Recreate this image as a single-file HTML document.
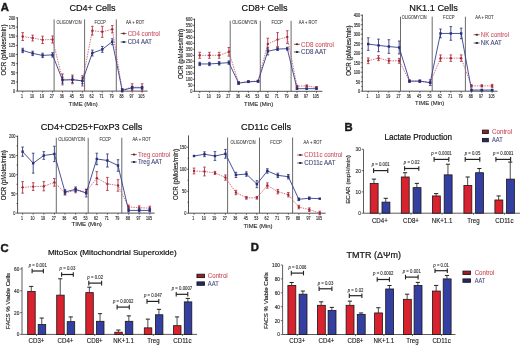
<!DOCTYPE html>
<html><head><meta charset="utf-8"><style>
html,body{margin:0;padding:0;background:#fff;}
body{width:520px;height:345px;overflow:hidden;}
svg{display:block;font-family:"Liberation Sans", sans-serif;will-change:transform;filter:blur(0.3px);}
</style></head><body>
<svg width="520" height="345" viewBox="0 0 520 345">
<rect width="520" height="345" fill="#fff"/>
<text x="0.70" y="11.10" font-size="11.3" text-anchor="start" fill="#1a1a1a" stroke="#1a1a1a" stroke-width="0.45" font-weight="bold">A</text>
<text x="344.60" y="130.55" font-size="11.3" text-anchor="start" fill="#1a1a1a" stroke="#1a1a1a" stroke-width="0.45" font-weight="bold">B</text>
<text x="0.60" y="251.65" font-size="11.3" text-anchor="start" fill="#1a1a1a" stroke="#1a1a1a" stroke-width="0.45" font-weight="bold">C</text>
<text x="250.80" y="251.05" font-size="11.3" text-anchor="start" fill="#1a1a1a" stroke="#1a1a1a" stroke-width="0.45" font-weight="bold">D</text>
<line x1="17.40" y1="17.30" x2="17.40" y2="91.10" stroke="#333" stroke-width="0.85"/>
<line x1="17.40" y1="91.10" x2="147.60" y2="91.10" stroke="#333" stroke-width="0.85"/>
<line x1="15.80" y1="91.10" x2="17.80" y2="91.10" stroke="#333" stroke-width="0.7"/>
<text x="15.30" y="93.15" font-size="4.9" text-anchor="end" fill="#333" stroke="#333" stroke-width="0.16" textLength="2.18" lengthAdjust="spacingAndGlyphs">0</text>
<line x1="15.80" y1="81.95" x2="17.80" y2="81.95" stroke="#333" stroke-width="0.7"/>
<text x="15.30" y="84.00" font-size="4.9" text-anchor="end" fill="#333" stroke="#333" stroke-width="0.16" textLength="4.36" lengthAdjust="spacingAndGlyphs">25</text>
<line x1="15.80" y1="72.80" x2="17.80" y2="72.80" stroke="#333" stroke-width="0.7"/>
<text x="15.30" y="74.85" font-size="4.9" text-anchor="end" fill="#333" stroke="#333" stroke-width="0.16" textLength="4.36" lengthAdjust="spacingAndGlyphs">50</text>
<line x1="15.80" y1="63.65" x2="17.80" y2="63.65" stroke="#333" stroke-width="0.7"/>
<text x="15.30" y="65.70" font-size="4.9" text-anchor="end" fill="#333" stroke="#333" stroke-width="0.16" textLength="4.36" lengthAdjust="spacingAndGlyphs">75</text>
<line x1="15.80" y1="54.50" x2="17.80" y2="54.50" stroke="#333" stroke-width="0.7"/>
<text x="15.30" y="56.55" font-size="4.9" text-anchor="end" fill="#333" stroke="#333" stroke-width="0.16" textLength="6.54" lengthAdjust="spacingAndGlyphs">100</text>
<line x1="15.80" y1="45.35" x2="17.80" y2="45.35" stroke="#333" stroke-width="0.7"/>
<text x="15.30" y="47.40" font-size="4.9" text-anchor="end" fill="#333" stroke="#333" stroke-width="0.16" textLength="6.54" lengthAdjust="spacingAndGlyphs">125</text>
<line x1="15.80" y1="36.20" x2="17.80" y2="36.20" stroke="#333" stroke-width="0.7"/>
<text x="15.30" y="38.25" font-size="4.9" text-anchor="end" fill="#333" stroke="#333" stroke-width="0.16" textLength="6.54" lengthAdjust="spacingAndGlyphs">150</text>
<line x1="15.80" y1="27.05" x2="17.80" y2="27.05" stroke="#333" stroke-width="0.7"/>
<text x="15.30" y="29.10" font-size="4.9" text-anchor="end" fill="#333" stroke="#333" stroke-width="0.16" textLength="6.54" lengthAdjust="spacingAndGlyphs">175</text>
<line x1="15.80" y1="17.90" x2="17.80" y2="17.90" stroke="#333" stroke-width="0.7"/>
<text x="15.30" y="19.95" font-size="4.9" text-anchor="end" fill="#333" stroke="#333" stroke-width="0.16" textLength="6.54" lengthAdjust="spacingAndGlyphs">200</text>
<line x1="22.70" y1="91.10" x2="22.70" y2="92.70" stroke="#333" stroke-width="0.7"/>
<text x="22.00" y="97.95" font-size="4.9" text-anchor="middle" fill="#333" stroke="#333" stroke-width="0.16" textLength="2.04" lengthAdjust="spacingAndGlyphs">1</text>
<line x1="32.65" y1="91.10" x2="32.65" y2="92.70" stroke="#333" stroke-width="0.7"/>
<text x="31.95" y="97.95" font-size="4.9" text-anchor="middle" fill="#333" stroke="#333" stroke-width="0.16" textLength="4.09" lengthAdjust="spacingAndGlyphs">10</text>
<line x1="42.60" y1="91.10" x2="42.60" y2="92.70" stroke="#333" stroke-width="0.7"/>
<text x="41.90" y="97.95" font-size="4.9" text-anchor="middle" fill="#333" stroke="#333" stroke-width="0.16" textLength="4.09" lengthAdjust="spacingAndGlyphs">19</text>
<line x1="52.55" y1="91.10" x2="52.55" y2="92.70" stroke="#333" stroke-width="0.7"/>
<text x="51.85" y="97.95" font-size="4.9" text-anchor="middle" fill="#333" stroke="#333" stroke-width="0.16" textLength="4.09" lengthAdjust="spacingAndGlyphs">27</text>
<line x1="62.50" y1="91.10" x2="62.50" y2="92.70" stroke="#333" stroke-width="0.7"/>
<text x="61.80" y="97.95" font-size="4.9" text-anchor="middle" fill="#333" stroke="#333" stroke-width="0.16" textLength="4.09" lengthAdjust="spacingAndGlyphs">36</text>
<line x1="72.45" y1="91.10" x2="72.45" y2="92.70" stroke="#333" stroke-width="0.7"/>
<text x="71.75" y="97.95" font-size="4.9" text-anchor="middle" fill="#333" stroke="#333" stroke-width="0.16" textLength="4.09" lengthAdjust="spacingAndGlyphs">45</text>
<line x1="82.40" y1="91.10" x2="82.40" y2="92.70" stroke="#333" stroke-width="0.7"/>
<text x="81.70" y="97.95" font-size="4.9" text-anchor="middle" fill="#333" stroke="#333" stroke-width="0.16" textLength="4.09" lengthAdjust="spacingAndGlyphs">53</text>
<line x1="92.35" y1="91.10" x2="92.35" y2="92.70" stroke="#333" stroke-width="0.7"/>
<text x="91.65" y="97.95" font-size="4.9" text-anchor="middle" fill="#333" stroke="#333" stroke-width="0.16" textLength="4.09" lengthAdjust="spacingAndGlyphs">62</text>
<line x1="102.30" y1="91.10" x2="102.30" y2="92.70" stroke="#333" stroke-width="0.7"/>
<text x="101.60" y="97.95" font-size="4.9" text-anchor="middle" fill="#333" stroke="#333" stroke-width="0.16" textLength="4.09" lengthAdjust="spacingAndGlyphs">71</text>
<line x1="112.25" y1="91.10" x2="112.25" y2="92.70" stroke="#333" stroke-width="0.7"/>
<text x="111.55" y="97.95" font-size="4.9" text-anchor="middle" fill="#333" stroke="#333" stroke-width="0.16" textLength="4.09" lengthAdjust="spacingAndGlyphs">79</text>
<line x1="122.20" y1="91.10" x2="122.20" y2="92.70" stroke="#333" stroke-width="0.7"/>
<text x="121.50" y="97.95" font-size="4.9" text-anchor="middle" fill="#333" stroke="#333" stroke-width="0.16" textLength="4.09" lengthAdjust="spacingAndGlyphs">88</text>
<line x1="132.15" y1="91.10" x2="132.15" y2="92.70" stroke="#333" stroke-width="0.7"/>
<text x="131.45" y="97.95" font-size="4.9" text-anchor="middle" fill="#333" stroke="#333" stroke-width="0.16" textLength="4.09" lengthAdjust="spacingAndGlyphs">97</text>
<line x1="142.10" y1="91.10" x2="142.10" y2="92.70" stroke="#333" stroke-width="0.7"/>
<text x="141.40" y="97.95" font-size="4.9" text-anchor="middle" fill="#333" stroke="#333" stroke-width="0.16" textLength="6.13" lengthAdjust="spacingAndGlyphs">105</text>
<text x="83.10" y="106.02" font-size="6.2" text-anchor="middle" fill="#222" stroke="#222" stroke-width="0.1" textLength="29.00" lengthAdjust="spacingAndGlyphs">TIME (Min)</text>
<text x="6.00" y="50.00" font-size="6.3" text-anchor="middle" fill="#222" stroke="#222" stroke-width="0.15" textLength="51.00" lengthAdjust="spacingAndGlyphs" transform="rotate(-90 6.00 50.00)">OCR (pMoles/min)</text>
<line x1="54.10" y1="19.40" x2="54.10" y2="91.10" stroke="#5a5a5a" stroke-width="0.9"/>
<line x1="84.60" y1="19.40" x2="84.60" y2="91.10" stroke="#5a5a5a" stroke-width="0.9"/>
<line x1="116.30" y1="19.40" x2="116.30" y2="91.10" stroke="#5a5a5a" stroke-width="0.9"/>
<text x="69.00" y="23.81" font-size="4.5" text-anchor="middle" fill="#333" stroke="#333" stroke-width="0.06" textLength="25.00" lengthAdjust="spacingAndGlyphs">OLIGOMYCIN</text>
<text x="100.20" y="23.81" font-size="4.5" text-anchor="middle" fill="#333" stroke="#333" stroke-width="0.06" textLength="11.40" lengthAdjust="spacingAndGlyphs">FCCP</text>
<text x="135.10" y="23.81" font-size="4.5" text-anchor="middle" fill="#333" stroke="#333" stroke-width="0.06" textLength="18.40" lengthAdjust="spacingAndGlyphs">AA + ROT</text>
<text x="92.50" y="11.17" font-size="9.4" text-anchor="middle" fill="#111" stroke="#111" stroke-width="0.2" textLength="46.00" lengthAdjust="spacingAndGlyphs">CD4+ Cells</text>
<polyline points="22.70,36.57 32.65,38.03 42.60,39.86 52.55,39.49 62.50,79.39 72.45,79.39 82.40,80.85 92.35,30.71 102.30,31.81 112.25,29.25 122.20,90.00 132.15,87.07 142.10,87.44" fill="none" stroke="#d06474" stroke-width="0.9" stroke-dasharray="1.5,1.0"/>
<line x1="22.70" y1="40.48" x2="22.70" y2="32.65" stroke="#a8283a" stroke-width="0.85"/>
<line x1="21.40" y1="32.65" x2="24.00" y2="32.65" stroke="#a8283a" stroke-width="0.8"/>
<line x1="21.40" y1="40.48" x2="24.00" y2="40.48" stroke="#a8283a" stroke-width="0.8"/>
<circle cx="22.70" cy="36.57" r="1.2" fill="#a8283a"/>
<line x1="32.65" y1="40.96" x2="32.65" y2="35.10" stroke="#a8283a" stroke-width="0.85"/>
<line x1="31.35" y1="35.10" x2="33.95" y2="35.10" stroke="#a8283a" stroke-width="0.8"/>
<line x1="31.35" y1="40.96" x2="33.95" y2="40.96" stroke="#a8283a" stroke-width="0.8"/>
<circle cx="32.65" cy="38.03" r="1.2" fill="#a8283a"/>
<line x1="42.60" y1="43.52" x2="42.60" y2="36.20" stroke="#a8283a" stroke-width="0.85"/>
<line x1="41.30" y1="36.20" x2="43.90" y2="36.20" stroke="#a8283a" stroke-width="0.8"/>
<line x1="41.30" y1="43.52" x2="43.90" y2="43.52" stroke="#a8283a" stroke-width="0.8"/>
<circle cx="42.60" cy="39.86" r="1.2" fill="#a8283a"/>
<line x1="52.55" y1="43.01" x2="52.55" y2="35.98" stroke="#a8283a" stroke-width="0.85"/>
<line x1="51.25" y1="35.98" x2="53.85" y2="35.98" stroke="#a8283a" stroke-width="0.8"/>
<line x1="51.25" y1="43.01" x2="53.85" y2="43.01" stroke="#a8283a" stroke-width="0.8"/>
<circle cx="52.55" cy="39.49" r="1.2" fill="#a8283a"/>
<line x1="62.50" y1="84.88" x2="62.50" y2="73.90" stroke="#a8283a" stroke-width="0.85"/>
<line x1="61.20" y1="73.90" x2="63.80" y2="73.90" stroke="#a8283a" stroke-width="0.8"/>
<line x1="61.20" y1="84.88" x2="63.80" y2="84.88" stroke="#a8283a" stroke-width="0.8"/>
<circle cx="62.50" cy="79.39" r="1.2" fill="#a8283a"/>
<line x1="72.45" y1="83.78" x2="72.45" y2="75.00" stroke="#a8283a" stroke-width="0.85"/>
<line x1="71.15" y1="75.00" x2="73.75" y2="75.00" stroke="#a8283a" stroke-width="0.8"/>
<line x1="71.15" y1="83.78" x2="73.75" y2="83.78" stroke="#a8283a" stroke-width="0.8"/>
<circle cx="72.45" cy="79.39" r="1.2" fill="#a8283a"/>
<line x1="82.40" y1="85.98" x2="82.40" y2="75.73" stroke="#a8283a" stroke-width="0.85"/>
<line x1="81.10" y1="75.73" x2="83.70" y2="75.73" stroke="#a8283a" stroke-width="0.8"/>
<line x1="81.10" y1="85.98" x2="83.70" y2="85.98" stroke="#a8283a" stroke-width="0.8"/>
<circle cx="82.40" cy="80.85" r="1.2" fill="#a8283a"/>
<line x1="92.35" y1="35.10" x2="92.35" y2="26.32" stroke="#a8283a" stroke-width="0.85"/>
<line x1="91.05" y1="26.32" x2="93.65" y2="26.32" stroke="#a8283a" stroke-width="0.8"/>
<line x1="91.05" y1="35.10" x2="93.65" y2="35.10" stroke="#a8283a" stroke-width="0.8"/>
<circle cx="92.35" cy="30.71" r="1.2" fill="#a8283a"/>
<line x1="102.30" y1="37.30" x2="102.30" y2="26.32" stroke="#a8283a" stroke-width="0.85"/>
<line x1="101.00" y1="26.32" x2="103.60" y2="26.32" stroke="#a8283a" stroke-width="0.8"/>
<line x1="101.00" y1="37.30" x2="103.60" y2="37.30" stroke="#a8283a" stroke-width="0.8"/>
<circle cx="102.30" cy="31.81" r="1.2" fill="#a8283a"/>
<line x1="112.25" y1="32.91" x2="112.25" y2="25.59" stroke="#a8283a" stroke-width="0.85"/>
<line x1="110.95" y1="25.59" x2="113.55" y2="25.59" stroke="#a8283a" stroke-width="0.8"/>
<line x1="110.95" y1="32.91" x2="113.55" y2="32.91" stroke="#a8283a" stroke-width="0.8"/>
<circle cx="112.25" cy="29.25" r="1.2" fill="#a8283a"/>
<line x1="122.20" y1="91.47" x2="122.20" y2="88.54" stroke="#a8283a" stroke-width="0.85"/>
<line x1="120.90" y1="88.54" x2="123.50" y2="88.54" stroke="#a8283a" stroke-width="0.8"/>
<line x1="120.90" y1="91.47" x2="123.50" y2="91.47" stroke="#a8283a" stroke-width="0.8"/>
<circle cx="122.20" cy="90.00" r="1.2" fill="#a8283a"/>
<line x1="132.15" y1="90.37" x2="132.15" y2="83.78" stroke="#a8283a" stroke-width="0.85"/>
<line x1="130.85" y1="83.78" x2="133.45" y2="83.78" stroke="#a8283a" stroke-width="0.8"/>
<line x1="130.85" y1="90.37" x2="133.45" y2="90.37" stroke="#a8283a" stroke-width="0.8"/>
<circle cx="132.15" cy="87.07" r="1.2" fill="#a8283a"/>
<line x1="142.10" y1="91.10" x2="142.10" y2="83.78" stroke="#a8283a" stroke-width="0.85"/>
<line x1="140.80" y1="83.78" x2="143.40" y2="83.78" stroke="#a8283a" stroke-width="0.8"/>
<line x1="140.80" y1="91.10" x2="143.40" y2="91.10" stroke="#a8283a" stroke-width="0.8"/>
<circle cx="142.10" cy="87.44" r="1.2" fill="#a8283a"/>
<polyline points="22.70,50.47 32.65,53.40 42.60,55.41 52.55,54.87 62.50,80.12 72.45,79.75 82.40,80.85 92.35,53.04 102.30,49.38 112.25,41.69 122.20,90.37 132.15,87.81 142.10,87.81" fill="none" stroke="#33408e" stroke-width="0.9"/>
<line x1="22.70" y1="52.67" x2="22.70" y2="48.28" stroke="#262f78" stroke-width="0.85"/>
<line x1="21.40" y1="48.28" x2="24.00" y2="48.28" stroke="#262f78" stroke-width="0.8"/>
<line x1="21.40" y1="52.67" x2="24.00" y2="52.67" stroke="#262f78" stroke-width="0.8"/>
<rect x="21.50" y="49.27" width="2.40" height="2.40" fill="#262f78"/>
<line x1="32.65" y1="55.60" x2="32.65" y2="51.21" stroke="#262f78" stroke-width="0.85"/>
<line x1="31.35" y1="51.21" x2="33.95" y2="51.21" stroke="#262f78" stroke-width="0.8"/>
<line x1="31.35" y1="55.60" x2="33.95" y2="55.60" stroke="#262f78" stroke-width="0.8"/>
<rect x="31.45" y="52.20" width="2.40" height="2.40" fill="#262f78"/>
<line x1="42.60" y1="57.61" x2="42.60" y2="53.22" stroke="#262f78" stroke-width="0.85"/>
<line x1="41.30" y1="53.22" x2="43.90" y2="53.22" stroke="#262f78" stroke-width="0.8"/>
<line x1="41.30" y1="57.61" x2="43.90" y2="57.61" stroke="#262f78" stroke-width="0.8"/>
<rect x="41.40" y="54.21" width="2.40" height="2.40" fill="#262f78"/>
<line x1="52.55" y1="57.06" x2="52.55" y2="52.67" stroke="#262f78" stroke-width="0.85"/>
<line x1="51.25" y1="52.67" x2="53.85" y2="52.67" stroke="#262f78" stroke-width="0.8"/>
<line x1="51.25" y1="57.06" x2="53.85" y2="57.06" stroke="#262f78" stroke-width="0.8"/>
<rect x="51.35" y="53.67" width="2.40" height="2.40" fill="#262f78"/>
<line x1="62.50" y1="83.05" x2="62.50" y2="77.19" stroke="#262f78" stroke-width="0.85"/>
<line x1="61.20" y1="77.19" x2="63.80" y2="77.19" stroke="#262f78" stroke-width="0.8"/>
<line x1="61.20" y1="83.05" x2="63.80" y2="83.05" stroke="#262f78" stroke-width="0.8"/>
<rect x="61.30" y="78.92" width="2.40" height="2.40" fill="#262f78"/>
<line x1="72.45" y1="82.68" x2="72.45" y2="76.83" stroke="#262f78" stroke-width="0.85"/>
<line x1="71.15" y1="76.83" x2="73.75" y2="76.83" stroke="#262f78" stroke-width="0.8"/>
<line x1="71.15" y1="82.68" x2="73.75" y2="82.68" stroke="#262f78" stroke-width="0.8"/>
<rect x="71.25" y="78.55" width="2.40" height="2.40" fill="#262f78"/>
<line x1="82.40" y1="83.78" x2="82.40" y2="77.92" stroke="#262f78" stroke-width="0.85"/>
<line x1="81.10" y1="77.92" x2="83.70" y2="77.92" stroke="#262f78" stroke-width="0.8"/>
<line x1="81.10" y1="83.78" x2="83.70" y2="83.78" stroke="#262f78" stroke-width="0.8"/>
<rect x="81.20" y="79.65" width="2.40" height="2.40" fill="#262f78"/>
<line x1="92.35" y1="55.96" x2="92.35" y2="50.11" stroke="#262f78" stroke-width="0.85"/>
<line x1="91.05" y1="50.11" x2="93.65" y2="50.11" stroke="#262f78" stroke-width="0.8"/>
<line x1="91.05" y1="55.96" x2="93.65" y2="55.96" stroke="#262f78" stroke-width="0.8"/>
<rect x="91.15" y="51.84" width="2.40" height="2.40" fill="#262f78"/>
<line x1="102.30" y1="52.30" x2="102.30" y2="46.45" stroke="#262f78" stroke-width="0.85"/>
<line x1="101.00" y1="46.45" x2="103.60" y2="46.45" stroke="#262f78" stroke-width="0.8"/>
<line x1="101.00" y1="52.30" x2="103.60" y2="52.30" stroke="#262f78" stroke-width="0.8"/>
<rect x="101.10" y="48.18" width="2.40" height="2.40" fill="#262f78"/>
<line x1="112.25" y1="44.62" x2="112.25" y2="38.76" stroke="#262f78" stroke-width="0.85"/>
<line x1="110.95" y1="38.76" x2="113.55" y2="38.76" stroke="#262f78" stroke-width="0.8"/>
<line x1="110.95" y1="44.62" x2="113.55" y2="44.62" stroke="#262f78" stroke-width="0.8"/>
<rect x="111.05" y="40.49" width="2.40" height="2.40" fill="#262f78"/>
<line x1="122.20" y1="91.83" x2="122.20" y2="88.90" stroke="#262f78" stroke-width="0.85"/>
<line x1="120.90" y1="88.90" x2="123.50" y2="88.90" stroke="#262f78" stroke-width="0.8"/>
<line x1="120.90" y1="91.83" x2="123.50" y2="91.83" stroke="#262f78" stroke-width="0.8"/>
<rect x="121.00" y="89.17" width="2.40" height="2.40" fill="#262f78"/>
<line x1="132.15" y1="89.27" x2="132.15" y2="86.34" stroke="#262f78" stroke-width="0.85"/>
<line x1="130.85" y1="86.34" x2="133.45" y2="86.34" stroke="#262f78" stroke-width="0.8"/>
<line x1="130.85" y1="89.27" x2="133.45" y2="89.27" stroke="#262f78" stroke-width="0.8"/>
<rect x="130.95" y="86.61" width="2.40" height="2.40" fill="#262f78"/>
<line x1="142.10" y1="89.27" x2="142.10" y2="86.34" stroke="#262f78" stroke-width="0.85"/>
<line x1="140.80" y1="86.34" x2="143.40" y2="86.34" stroke="#262f78" stroke-width="0.8"/>
<line x1="140.80" y1="89.27" x2="143.40" y2="89.27" stroke="#262f78" stroke-width="0.8"/>
<rect x="140.90" y="86.61" width="2.40" height="2.40" fill="#262f78"/>
<line x1="120.60" y1="33.50" x2="126.50" y2="33.50" stroke="#6a2028" stroke-width="0.7"/>
<ellipse cx="123.70" cy="33.50" rx="1.3" ry="1.0" fill="#6a2028"/>
<text x="127.70" y="35.86" font-size="6.6" text-anchor="start" fill="#cc5868" stroke="#cc5868" stroke-width="0.1" textLength="32.30" lengthAdjust="spacingAndGlyphs">CD4 control</text>
<line x1="120.60" y1="42.00" x2="126.50" y2="42.00" stroke="#1c2240" stroke-width="0.7"/>
<ellipse cx="123.70" cy="42.00" rx="1.3" ry="1.0" fill="#1c2240"/>
<text x="127.70" y="44.36" font-size="6.6" text-anchor="start" fill="#424878" stroke="#424878" stroke-width="0.1" textLength="24.30" lengthAdjust="spacingAndGlyphs">CD4 AAT</text>
<line x1="194.50" y1="18.70" x2="194.50" y2="91.30" stroke="#333" stroke-width="0.85"/>
<line x1="194.50" y1="91.30" x2="322.40" y2="91.30" stroke="#333" stroke-width="0.85"/>
<line x1="192.90" y1="91.30" x2="194.90" y2="91.30" stroke="#333" stroke-width="0.7"/>
<text x="192.40" y="93.35" font-size="4.9" text-anchor="end" fill="#333" stroke="#333" stroke-width="0.16" textLength="2.18" lengthAdjust="spacingAndGlyphs">0</text>
<line x1="192.90" y1="85.30" x2="194.90" y2="85.30" stroke="#333" stroke-width="0.7"/>
<text x="192.40" y="87.35" font-size="4.9" text-anchor="end" fill="#333" stroke="#333" stroke-width="0.16" textLength="4.36" lengthAdjust="spacingAndGlyphs">50</text>
<line x1="192.90" y1="79.30" x2="194.90" y2="79.30" stroke="#333" stroke-width="0.7"/>
<text x="192.40" y="81.35" font-size="4.9" text-anchor="end" fill="#333" stroke="#333" stroke-width="0.16" textLength="6.54" lengthAdjust="spacingAndGlyphs">100</text>
<line x1="192.90" y1="73.30" x2="194.90" y2="73.30" stroke="#333" stroke-width="0.7"/>
<text x="192.40" y="75.35" font-size="4.9" text-anchor="end" fill="#333" stroke="#333" stroke-width="0.16" textLength="6.54" lengthAdjust="spacingAndGlyphs">150</text>
<line x1="192.90" y1="67.30" x2="194.90" y2="67.30" stroke="#333" stroke-width="0.7"/>
<text x="192.40" y="69.35" font-size="4.9" text-anchor="end" fill="#333" stroke="#333" stroke-width="0.16" textLength="6.54" lengthAdjust="spacingAndGlyphs">200</text>
<line x1="192.90" y1="61.30" x2="194.90" y2="61.30" stroke="#333" stroke-width="0.7"/>
<text x="192.40" y="63.35" font-size="4.9" text-anchor="end" fill="#333" stroke="#333" stroke-width="0.16" textLength="6.54" lengthAdjust="spacingAndGlyphs">250</text>
<line x1="192.90" y1="55.30" x2="194.90" y2="55.30" stroke="#333" stroke-width="0.7"/>
<text x="192.40" y="57.35" font-size="4.9" text-anchor="end" fill="#333" stroke="#333" stroke-width="0.16" textLength="6.54" lengthAdjust="spacingAndGlyphs">300</text>
<line x1="192.90" y1="49.30" x2="194.90" y2="49.30" stroke="#333" stroke-width="0.7"/>
<text x="192.40" y="51.35" font-size="4.9" text-anchor="end" fill="#333" stroke="#333" stroke-width="0.16" textLength="6.54" lengthAdjust="spacingAndGlyphs">350</text>
<line x1="192.90" y1="43.30" x2="194.90" y2="43.30" stroke="#333" stroke-width="0.7"/>
<text x="192.40" y="45.35" font-size="4.9" text-anchor="end" fill="#333" stroke="#333" stroke-width="0.16" textLength="6.54" lengthAdjust="spacingAndGlyphs">400</text>
<line x1="192.90" y1="37.30" x2="194.90" y2="37.30" stroke="#333" stroke-width="0.7"/>
<text x="192.40" y="39.35" font-size="4.9" text-anchor="end" fill="#333" stroke="#333" stroke-width="0.16" textLength="6.54" lengthAdjust="spacingAndGlyphs">450</text>
<line x1="192.90" y1="31.30" x2="194.90" y2="31.30" stroke="#333" stroke-width="0.7"/>
<text x="192.40" y="33.35" font-size="4.9" text-anchor="end" fill="#333" stroke="#333" stroke-width="0.16" textLength="6.54" lengthAdjust="spacingAndGlyphs">500</text>
<line x1="192.90" y1="25.30" x2="194.90" y2="25.30" stroke="#333" stroke-width="0.7"/>
<text x="192.40" y="27.35" font-size="4.9" text-anchor="end" fill="#333" stroke="#333" stroke-width="0.16" textLength="6.54" lengthAdjust="spacingAndGlyphs">550</text>
<line x1="192.90" y1="19.30" x2="194.90" y2="19.30" stroke="#333" stroke-width="0.7"/>
<text x="192.40" y="21.35" font-size="4.9" text-anchor="end" fill="#333" stroke="#333" stroke-width="0.16" textLength="6.54" lengthAdjust="spacingAndGlyphs">600</text>
<line x1="199.70" y1="91.30" x2="199.70" y2="92.90" stroke="#333" stroke-width="0.7"/>
<text x="199.00" y="98.25" font-size="4.9" text-anchor="middle" fill="#333" stroke="#333" stroke-width="0.16" textLength="2.04" lengthAdjust="spacingAndGlyphs">1</text>
<line x1="209.43" y1="91.30" x2="209.43" y2="92.90" stroke="#333" stroke-width="0.7"/>
<text x="208.73" y="98.25" font-size="4.9" text-anchor="middle" fill="#333" stroke="#333" stroke-width="0.16" textLength="4.09" lengthAdjust="spacingAndGlyphs">10</text>
<line x1="219.16" y1="91.30" x2="219.16" y2="92.90" stroke="#333" stroke-width="0.7"/>
<text x="218.46" y="98.25" font-size="4.9" text-anchor="middle" fill="#333" stroke="#333" stroke-width="0.16" textLength="4.09" lengthAdjust="spacingAndGlyphs">19</text>
<line x1="228.89" y1="91.30" x2="228.89" y2="92.90" stroke="#333" stroke-width="0.7"/>
<text x="228.19" y="98.25" font-size="4.9" text-anchor="middle" fill="#333" stroke="#333" stroke-width="0.16" textLength="4.09" lengthAdjust="spacingAndGlyphs">27</text>
<line x1="238.62" y1="91.30" x2="238.62" y2="92.90" stroke="#333" stroke-width="0.7"/>
<text x="237.92" y="98.25" font-size="4.9" text-anchor="middle" fill="#333" stroke="#333" stroke-width="0.16" textLength="4.09" lengthAdjust="spacingAndGlyphs">36</text>
<line x1="248.35" y1="91.30" x2="248.35" y2="92.90" stroke="#333" stroke-width="0.7"/>
<text x="247.65" y="98.25" font-size="4.9" text-anchor="middle" fill="#333" stroke="#333" stroke-width="0.16" textLength="4.09" lengthAdjust="spacingAndGlyphs">45</text>
<line x1="258.08" y1="91.30" x2="258.08" y2="92.90" stroke="#333" stroke-width="0.7"/>
<text x="257.38" y="98.25" font-size="4.9" text-anchor="middle" fill="#333" stroke="#333" stroke-width="0.16" textLength="4.09" lengthAdjust="spacingAndGlyphs">53</text>
<line x1="267.81" y1="91.30" x2="267.81" y2="92.90" stroke="#333" stroke-width="0.7"/>
<text x="267.11" y="98.25" font-size="4.9" text-anchor="middle" fill="#333" stroke="#333" stroke-width="0.16" textLength="4.09" lengthAdjust="spacingAndGlyphs">62</text>
<line x1="277.54" y1="91.30" x2="277.54" y2="92.90" stroke="#333" stroke-width="0.7"/>
<text x="276.84" y="98.25" font-size="4.9" text-anchor="middle" fill="#333" stroke="#333" stroke-width="0.16" textLength="4.09" lengthAdjust="spacingAndGlyphs">71</text>
<line x1="287.27" y1="91.30" x2="287.27" y2="92.90" stroke="#333" stroke-width="0.7"/>
<text x="286.57" y="98.25" font-size="4.9" text-anchor="middle" fill="#333" stroke="#333" stroke-width="0.16" textLength="4.09" lengthAdjust="spacingAndGlyphs">79</text>
<line x1="297.00" y1="91.30" x2="297.00" y2="92.90" stroke="#333" stroke-width="0.7"/>
<text x="296.30" y="98.25" font-size="4.9" text-anchor="middle" fill="#333" stroke="#333" stroke-width="0.16" textLength="4.09" lengthAdjust="spacingAndGlyphs">88</text>
<line x1="306.73" y1="91.30" x2="306.73" y2="92.90" stroke="#333" stroke-width="0.7"/>
<text x="306.03" y="98.25" font-size="4.9" text-anchor="middle" fill="#333" stroke="#333" stroke-width="0.16" textLength="4.09" lengthAdjust="spacingAndGlyphs">97</text>
<line x1="316.46" y1="91.30" x2="316.46" y2="92.90" stroke="#333" stroke-width="0.7"/>
<text x="315.76" y="98.25" font-size="4.9" text-anchor="middle" fill="#333" stroke="#333" stroke-width="0.16" textLength="6.13" lengthAdjust="spacingAndGlyphs">105</text>
<text x="258.60" y="106.32" font-size="6.2" text-anchor="middle" fill="#222" stroke="#222" stroke-width="0.1" textLength="29.00" lengthAdjust="spacingAndGlyphs">TIME (Min)</text>
<text x="182.70" y="53.90" font-size="6.3" text-anchor="middle" fill="#222" stroke="#222" stroke-width="0.15" textLength="50.00" lengthAdjust="spacingAndGlyphs" transform="rotate(-90 182.70 53.90)">OCR (pMoles/min)</text>
<line x1="230.20" y1="20.80" x2="230.20" y2="91.30" stroke="#5a5a5a" stroke-width="0.9"/>
<line x1="260.30" y1="20.80" x2="260.30" y2="91.30" stroke="#5a5a5a" stroke-width="0.9"/>
<line x1="291.10" y1="20.80" x2="291.10" y2="91.30" stroke="#5a5a5a" stroke-width="0.9"/>
<text x="244.80" y="24.21" font-size="4.5" text-anchor="middle" fill="#333" stroke="#333" stroke-width="0.06" textLength="25.00" lengthAdjust="spacingAndGlyphs">OLIGOMYCIN</text>
<text x="277.20" y="24.21" font-size="4.5" text-anchor="middle" fill="#333" stroke="#333" stroke-width="0.06" textLength="11.40" lengthAdjust="spacingAndGlyphs">FCCP</text>
<text x="308.00" y="24.21" font-size="4.5" text-anchor="middle" fill="#333" stroke="#333" stroke-width="0.06" textLength="18.40" lengthAdjust="spacingAndGlyphs">AA + ROT</text>
<text x="264.60" y="11.17" font-size="9.4" text-anchor="middle" fill="#111" stroke="#111" stroke-width="0.2" textLength="46.00" lengthAdjust="spacingAndGlyphs">CD8+ Cells</text>
<polyline points="199.70,55.30 209.43,55.30 219.16,55.30 228.89,51.82 238.62,82.90 248.35,81.58 258.08,81.10 267.81,43.90 277.54,39.58 287.27,37.06 297.00,86.14 306.73,85.90 316.46,87.46" fill="none" stroke="#d06474" stroke-width="0.9" stroke-dasharray="1.5,1.0"/>
<line x1="199.70" y1="58.30" x2="199.70" y2="52.30" stroke="#a8283a" stroke-width="0.85"/>
<line x1="198.40" y1="52.30" x2="201.00" y2="52.30" stroke="#a8283a" stroke-width="0.8"/>
<line x1="198.40" y1="58.30" x2="201.00" y2="58.30" stroke="#a8283a" stroke-width="0.8"/>
<circle cx="199.70" cy="55.30" r="1.2" fill="#a8283a"/>
<line x1="209.43" y1="58.30" x2="209.43" y2="52.30" stroke="#a8283a" stroke-width="0.85"/>
<line x1="208.13" y1="52.30" x2="210.73" y2="52.30" stroke="#a8283a" stroke-width="0.8"/>
<line x1="208.13" y1="58.30" x2="210.73" y2="58.30" stroke="#a8283a" stroke-width="0.8"/>
<circle cx="209.43" cy="55.30" r="1.2" fill="#a8283a"/>
<line x1="219.16" y1="58.30" x2="219.16" y2="52.30" stroke="#a8283a" stroke-width="0.85"/>
<line x1="217.86" y1="52.30" x2="220.46" y2="52.30" stroke="#a8283a" stroke-width="0.8"/>
<line x1="217.86" y1="58.30" x2="220.46" y2="58.30" stroke="#a8283a" stroke-width="0.8"/>
<circle cx="219.16" cy="55.30" r="1.2" fill="#a8283a"/>
<line x1="228.89" y1="56.14" x2="228.89" y2="47.50" stroke="#a8283a" stroke-width="0.85"/>
<line x1="227.59" y1="47.50" x2="230.19" y2="47.50" stroke="#a8283a" stroke-width="0.8"/>
<line x1="227.59" y1="56.14" x2="230.19" y2="56.14" stroke="#a8283a" stroke-width="0.8"/>
<circle cx="228.89" cy="51.82" r="1.2" fill="#a8283a"/>
<line x1="238.62" y1="84.10" x2="238.62" y2="81.70" stroke="#a8283a" stroke-width="0.85"/>
<line x1="237.32" y1="81.70" x2="239.92" y2="81.70" stroke="#a8283a" stroke-width="0.8"/>
<line x1="237.32" y1="84.10" x2="239.92" y2="84.10" stroke="#a8283a" stroke-width="0.8"/>
<circle cx="238.62" cy="82.90" r="1.2" fill="#a8283a"/>
<line x1="248.35" y1="82.54" x2="248.35" y2="80.62" stroke="#a8283a" stroke-width="0.85"/>
<line x1="247.05" y1="80.62" x2="249.65" y2="80.62" stroke="#a8283a" stroke-width="0.8"/>
<line x1="247.05" y1="82.54" x2="249.65" y2="82.54" stroke="#a8283a" stroke-width="0.8"/>
<circle cx="248.35" cy="81.58" r="1.2" fill="#a8283a"/>
<line x1="258.08" y1="82.06" x2="258.08" y2="80.14" stroke="#a8283a" stroke-width="0.85"/>
<line x1="256.78" y1="80.14" x2="259.38" y2="80.14" stroke="#a8283a" stroke-width="0.8"/>
<line x1="256.78" y1="82.06" x2="259.38" y2="82.06" stroke="#a8283a" stroke-width="0.8"/>
<circle cx="258.08" cy="81.10" r="1.2" fill="#a8283a"/>
<line x1="267.81" y1="49.54" x2="267.81" y2="38.26" stroke="#a8283a" stroke-width="0.85"/>
<line x1="266.51" y1="38.26" x2="269.11" y2="38.26" stroke="#a8283a" stroke-width="0.8"/>
<line x1="266.51" y1="49.54" x2="269.11" y2="49.54" stroke="#a8283a" stroke-width="0.8"/>
<circle cx="267.81" cy="43.90" r="1.2" fill="#a8283a"/>
<line x1="277.54" y1="46.54" x2="277.54" y2="32.62" stroke="#a8283a" stroke-width="0.85"/>
<line x1="276.24" y1="32.62" x2="278.84" y2="32.62" stroke="#a8283a" stroke-width="0.8"/>
<line x1="276.24" y1="46.54" x2="278.84" y2="46.54" stroke="#a8283a" stroke-width="0.8"/>
<circle cx="277.54" cy="39.58" r="1.2" fill="#a8283a"/>
<line x1="287.27" y1="43.42" x2="287.27" y2="30.70" stroke="#a8283a" stroke-width="0.85"/>
<line x1="285.97" y1="30.70" x2="288.57" y2="30.70" stroke="#a8283a" stroke-width="0.8"/>
<line x1="285.97" y1="43.42" x2="288.57" y2="43.42" stroke="#a8283a" stroke-width="0.8"/>
<circle cx="287.27" cy="37.06" r="1.2" fill="#a8283a"/>
<line x1="297.00" y1="87.10" x2="297.00" y2="85.18" stroke="#a8283a" stroke-width="0.85"/>
<line x1="295.70" y1="85.18" x2="298.30" y2="85.18" stroke="#a8283a" stroke-width="0.8"/>
<line x1="295.70" y1="87.10" x2="298.30" y2="87.10" stroke="#a8283a" stroke-width="0.8"/>
<circle cx="297.00" cy="86.14" r="1.2" fill="#a8283a"/>
<line x1="306.73" y1="86.86" x2="306.73" y2="84.94" stroke="#a8283a" stroke-width="0.85"/>
<line x1="305.43" y1="84.94" x2="308.03" y2="84.94" stroke="#a8283a" stroke-width="0.8"/>
<line x1="305.43" y1="86.86" x2="308.03" y2="86.86" stroke="#a8283a" stroke-width="0.8"/>
<circle cx="306.73" cy="85.90" r="1.2" fill="#a8283a"/>
<line x1="316.46" y1="88.42" x2="316.46" y2="86.50" stroke="#a8283a" stroke-width="0.85"/>
<line x1="315.16" y1="86.50" x2="317.76" y2="86.50" stroke="#a8283a" stroke-width="0.8"/>
<line x1="315.16" y1="88.42" x2="317.76" y2="88.42" stroke="#a8283a" stroke-width="0.8"/>
<circle cx="316.46" cy="87.46" r="1.2" fill="#a8283a"/>
<polyline points="199.70,63.94 209.43,63.94 219.16,63.34 228.89,62.62 238.62,83.14 248.35,81.82 258.08,81.34 267.81,51.34 277.54,49.06 287.27,48.70 297.00,88.66 306.73,88.66 316.46,88.66" fill="none" stroke="#33408e" stroke-width="0.9"/>
<line x1="199.70" y1="65.62" x2="199.70" y2="62.26" stroke="#262f78" stroke-width="0.85"/>
<line x1="198.40" y1="62.26" x2="201.00" y2="62.26" stroke="#262f78" stroke-width="0.8"/>
<line x1="198.40" y1="65.62" x2="201.00" y2="65.62" stroke="#262f78" stroke-width="0.8"/>
<rect x="198.50" y="62.74" width="2.40" height="2.40" fill="#262f78"/>
<line x1="209.43" y1="65.62" x2="209.43" y2="62.26" stroke="#262f78" stroke-width="0.85"/>
<line x1="208.13" y1="62.26" x2="210.73" y2="62.26" stroke="#262f78" stroke-width="0.8"/>
<line x1="208.13" y1="65.62" x2="210.73" y2="65.62" stroke="#262f78" stroke-width="0.8"/>
<rect x="208.23" y="62.74" width="2.40" height="2.40" fill="#262f78"/>
<line x1="219.16" y1="65.02" x2="219.16" y2="61.66" stroke="#262f78" stroke-width="0.85"/>
<line x1="217.86" y1="61.66" x2="220.46" y2="61.66" stroke="#262f78" stroke-width="0.8"/>
<line x1="217.86" y1="65.02" x2="220.46" y2="65.02" stroke="#262f78" stroke-width="0.8"/>
<rect x="217.96" y="62.14" width="2.40" height="2.40" fill="#262f78"/>
<line x1="228.89" y1="64.30" x2="228.89" y2="60.94" stroke="#262f78" stroke-width="0.85"/>
<line x1="227.59" y1="60.94" x2="230.19" y2="60.94" stroke="#262f78" stroke-width="0.8"/>
<line x1="227.59" y1="64.30" x2="230.19" y2="64.30" stroke="#262f78" stroke-width="0.8"/>
<rect x="227.69" y="61.42" width="2.40" height="2.40" fill="#262f78"/>
<line x1="238.62" y1="84.34" x2="238.62" y2="81.94" stroke="#262f78" stroke-width="0.85"/>
<line x1="237.32" y1="81.94" x2="239.92" y2="81.94" stroke="#262f78" stroke-width="0.8"/>
<line x1="237.32" y1="84.34" x2="239.92" y2="84.34" stroke="#262f78" stroke-width="0.8"/>
<rect x="237.42" y="81.94" width="2.40" height="2.40" fill="#262f78"/>
<line x1="248.35" y1="82.54" x2="248.35" y2="81.10" stroke="#262f78" stroke-width="0.85"/>
<line x1="247.05" y1="81.10" x2="249.65" y2="81.10" stroke="#262f78" stroke-width="0.8"/>
<line x1="247.05" y1="82.54" x2="249.65" y2="82.54" stroke="#262f78" stroke-width="0.8"/>
<rect x="247.15" y="80.62" width="2.40" height="2.40" fill="#262f78"/>
<line x1="258.08" y1="82.06" x2="258.08" y2="80.62" stroke="#262f78" stroke-width="0.85"/>
<line x1="256.78" y1="80.62" x2="259.38" y2="80.62" stroke="#262f78" stroke-width="0.8"/>
<line x1="256.78" y1="82.06" x2="259.38" y2="82.06" stroke="#262f78" stroke-width="0.8"/>
<rect x="256.88" y="80.14" width="2.40" height="2.40" fill="#262f78"/>
<line x1="267.81" y1="54.94" x2="267.81" y2="47.74" stroke="#262f78" stroke-width="0.85"/>
<line x1="266.51" y1="47.74" x2="269.11" y2="47.74" stroke="#262f78" stroke-width="0.8"/>
<line x1="266.51" y1="54.94" x2="269.11" y2="54.94" stroke="#262f78" stroke-width="0.8"/>
<rect x="266.61" y="50.14" width="2.40" height="2.40" fill="#262f78"/>
<line x1="277.54" y1="50.50" x2="277.54" y2="47.62" stroke="#262f78" stroke-width="0.85"/>
<line x1="276.24" y1="47.62" x2="278.84" y2="47.62" stroke="#262f78" stroke-width="0.8"/>
<line x1="276.24" y1="50.50" x2="278.84" y2="50.50" stroke="#262f78" stroke-width="0.8"/>
<rect x="276.34" y="47.86" width="2.40" height="2.40" fill="#262f78"/>
<line x1="287.27" y1="50.14" x2="287.27" y2="47.26" stroke="#262f78" stroke-width="0.85"/>
<line x1="285.97" y1="47.26" x2="288.57" y2="47.26" stroke="#262f78" stroke-width="0.8"/>
<line x1="285.97" y1="50.14" x2="288.57" y2="50.14" stroke="#262f78" stroke-width="0.8"/>
<rect x="286.07" y="47.50" width="2.40" height="2.40" fill="#262f78"/>
<line x1="297.00" y1="89.26" x2="297.00" y2="88.06" stroke="#262f78" stroke-width="0.85"/>
<line x1="295.70" y1="88.06" x2="298.30" y2="88.06" stroke="#262f78" stroke-width="0.8"/>
<line x1="295.70" y1="89.26" x2="298.30" y2="89.26" stroke="#262f78" stroke-width="0.8"/>
<rect x="295.80" y="87.46" width="2.40" height="2.40" fill="#262f78"/>
<line x1="306.73" y1="89.26" x2="306.73" y2="88.06" stroke="#262f78" stroke-width="0.85"/>
<line x1="305.43" y1="88.06" x2="308.03" y2="88.06" stroke="#262f78" stroke-width="0.8"/>
<line x1="305.43" y1="89.26" x2="308.03" y2="89.26" stroke="#262f78" stroke-width="0.8"/>
<rect x="305.53" y="87.46" width="2.40" height="2.40" fill="#262f78"/>
<line x1="316.46" y1="89.26" x2="316.46" y2="88.06" stroke="#262f78" stroke-width="0.85"/>
<line x1="315.16" y1="88.06" x2="317.76" y2="88.06" stroke="#262f78" stroke-width="0.8"/>
<line x1="315.16" y1="89.26" x2="317.76" y2="89.26" stroke="#262f78" stroke-width="0.8"/>
<rect x="315.26" y="87.46" width="2.40" height="2.40" fill="#262f78"/>
<line x1="293.90" y1="44.30" x2="299.80" y2="44.30" stroke="#6a2028" stroke-width="0.7"/>
<ellipse cx="297.00" cy="44.30" rx="1.3" ry="1.0" fill="#6a2028"/>
<text x="301.00" y="46.66" font-size="6.6" text-anchor="start" fill="#cc5868" stroke="#cc5868" stroke-width="0.1" textLength="33.00" lengthAdjust="spacingAndGlyphs">CD8 control</text>
<line x1="293.90" y1="52.00" x2="299.80" y2="52.00" stroke="#1c2240" stroke-width="0.7"/>
<ellipse cx="297.00" cy="52.00" rx="1.3" ry="1.0" fill="#1c2240"/>
<text x="301.00" y="54.36" font-size="6.6" text-anchor="start" fill="#424878" stroke="#424878" stroke-width="0.1" textLength="25.40" lengthAdjust="spacingAndGlyphs">CD8 AAT</text>
<line x1="362.30" y1="14.60" x2="362.30" y2="91.20" stroke="#333" stroke-width="0.85"/>
<line x1="362.30" y1="91.20" x2="497.60" y2="91.20" stroke="#333" stroke-width="0.85"/>
<line x1="360.70" y1="91.20" x2="362.70" y2="91.20" stroke="#333" stroke-width="0.7"/>
<text x="360.20" y="93.25" font-size="4.9" text-anchor="end" fill="#333" stroke="#333" stroke-width="0.16" textLength="2.18" lengthAdjust="spacingAndGlyphs">0</text>
<line x1="360.70" y1="81.70" x2="362.70" y2="81.70" stroke="#333" stroke-width="0.7"/>
<text x="360.20" y="83.75" font-size="4.9" text-anchor="end" fill="#333" stroke="#333" stroke-width="0.16" textLength="4.36" lengthAdjust="spacingAndGlyphs">50</text>
<line x1="360.70" y1="72.20" x2="362.70" y2="72.20" stroke="#333" stroke-width="0.7"/>
<text x="360.20" y="74.25" font-size="4.9" text-anchor="end" fill="#333" stroke="#333" stroke-width="0.16" textLength="6.54" lengthAdjust="spacingAndGlyphs">100</text>
<line x1="360.70" y1="62.70" x2="362.70" y2="62.70" stroke="#333" stroke-width="0.7"/>
<text x="360.20" y="64.75" font-size="4.9" text-anchor="end" fill="#333" stroke="#333" stroke-width="0.16" textLength="6.54" lengthAdjust="spacingAndGlyphs">150</text>
<line x1="360.70" y1="53.20" x2="362.70" y2="53.20" stroke="#333" stroke-width="0.7"/>
<text x="360.20" y="55.25" font-size="4.9" text-anchor="end" fill="#333" stroke="#333" stroke-width="0.16" textLength="6.54" lengthAdjust="spacingAndGlyphs">200</text>
<line x1="360.70" y1="43.70" x2="362.70" y2="43.70" stroke="#333" stroke-width="0.7"/>
<text x="360.20" y="45.75" font-size="4.9" text-anchor="end" fill="#333" stroke="#333" stroke-width="0.16" textLength="6.54" lengthAdjust="spacingAndGlyphs">250</text>
<line x1="360.70" y1="34.20" x2="362.70" y2="34.20" stroke="#333" stroke-width="0.7"/>
<text x="360.20" y="36.25" font-size="4.9" text-anchor="end" fill="#333" stroke="#333" stroke-width="0.16" textLength="6.54" lengthAdjust="spacingAndGlyphs">300</text>
<line x1="360.70" y1="24.70" x2="362.70" y2="24.70" stroke="#333" stroke-width="0.7"/>
<text x="360.20" y="26.75" font-size="4.9" text-anchor="end" fill="#333" stroke="#333" stroke-width="0.16" textLength="6.54" lengthAdjust="spacingAndGlyphs">350</text>
<line x1="360.70" y1="15.20" x2="362.70" y2="15.20" stroke="#333" stroke-width="0.7"/>
<text x="360.20" y="17.25" font-size="4.9" text-anchor="end" fill="#333" stroke="#333" stroke-width="0.16" textLength="6.54" lengthAdjust="spacingAndGlyphs">400</text>
<line x1="361.10" y1="86.45" x2="362.70" y2="86.45" stroke="#333" stroke-width="0.6"/>
<line x1="361.10" y1="76.95" x2="362.70" y2="76.95" stroke="#333" stroke-width="0.6"/>
<line x1="361.10" y1="67.45" x2="362.70" y2="67.45" stroke="#333" stroke-width="0.6"/>
<line x1="361.10" y1="57.95" x2="362.70" y2="57.95" stroke="#333" stroke-width="0.6"/>
<line x1="361.10" y1="48.45" x2="362.70" y2="48.45" stroke="#333" stroke-width="0.6"/>
<line x1="361.10" y1="38.95" x2="362.70" y2="38.95" stroke="#333" stroke-width="0.6"/>
<line x1="361.10" y1="29.45" x2="362.70" y2="29.45" stroke="#333" stroke-width="0.6"/>
<line x1="361.10" y1="19.95" x2="362.70" y2="19.95" stroke="#333" stroke-width="0.6"/>
<line x1="368.20" y1="91.20" x2="368.20" y2="92.80" stroke="#333" stroke-width="0.7"/>
<text x="367.50" y="98.15" font-size="4.9" text-anchor="middle" fill="#333" stroke="#333" stroke-width="0.16" textLength="2.04" lengthAdjust="spacingAndGlyphs">1</text>
<line x1="378.53" y1="91.20" x2="378.53" y2="92.80" stroke="#333" stroke-width="0.7"/>
<text x="377.83" y="98.15" font-size="4.9" text-anchor="middle" fill="#333" stroke="#333" stroke-width="0.16" textLength="4.09" lengthAdjust="spacingAndGlyphs">10</text>
<line x1="388.86" y1="91.20" x2="388.86" y2="92.80" stroke="#333" stroke-width="0.7"/>
<text x="388.16" y="98.15" font-size="4.9" text-anchor="middle" fill="#333" stroke="#333" stroke-width="0.16" textLength="4.09" lengthAdjust="spacingAndGlyphs">19</text>
<line x1="399.19" y1="91.20" x2="399.19" y2="92.80" stroke="#333" stroke-width="0.7"/>
<text x="398.49" y="98.15" font-size="4.9" text-anchor="middle" fill="#333" stroke="#333" stroke-width="0.16" textLength="4.09" lengthAdjust="spacingAndGlyphs">27</text>
<line x1="409.52" y1="91.20" x2="409.52" y2="92.80" stroke="#333" stroke-width="0.7"/>
<text x="408.82" y="98.15" font-size="4.9" text-anchor="middle" fill="#333" stroke="#333" stroke-width="0.16" textLength="4.09" lengthAdjust="spacingAndGlyphs">36</text>
<line x1="419.85" y1="91.20" x2="419.85" y2="92.80" stroke="#333" stroke-width="0.7"/>
<text x="419.15" y="98.15" font-size="4.9" text-anchor="middle" fill="#333" stroke="#333" stroke-width="0.16" textLength="4.09" lengthAdjust="spacingAndGlyphs">45</text>
<line x1="430.18" y1="91.20" x2="430.18" y2="92.80" stroke="#333" stroke-width="0.7"/>
<text x="429.48" y="98.15" font-size="4.9" text-anchor="middle" fill="#333" stroke="#333" stroke-width="0.16" textLength="4.09" lengthAdjust="spacingAndGlyphs">53</text>
<line x1="440.51" y1="91.20" x2="440.51" y2="92.80" stroke="#333" stroke-width="0.7"/>
<text x="439.81" y="98.15" font-size="4.9" text-anchor="middle" fill="#333" stroke="#333" stroke-width="0.16" textLength="4.09" lengthAdjust="spacingAndGlyphs">62</text>
<line x1="450.84" y1="91.20" x2="450.84" y2="92.80" stroke="#333" stroke-width="0.7"/>
<text x="450.14" y="98.15" font-size="4.9" text-anchor="middle" fill="#333" stroke="#333" stroke-width="0.16" textLength="4.09" lengthAdjust="spacingAndGlyphs">71</text>
<line x1="461.17" y1="91.20" x2="461.17" y2="92.80" stroke="#333" stroke-width="0.7"/>
<text x="460.47" y="98.15" font-size="4.9" text-anchor="middle" fill="#333" stroke="#333" stroke-width="0.16" textLength="4.09" lengthAdjust="spacingAndGlyphs">79</text>
<line x1="471.50" y1="91.20" x2="471.50" y2="92.80" stroke="#333" stroke-width="0.7"/>
<text x="470.80" y="98.15" font-size="4.9" text-anchor="middle" fill="#333" stroke="#333" stroke-width="0.16" textLength="4.09" lengthAdjust="spacingAndGlyphs">88</text>
<line x1="481.83" y1="91.20" x2="481.83" y2="92.80" stroke="#333" stroke-width="0.7"/>
<text x="481.13" y="98.15" font-size="4.9" text-anchor="middle" fill="#333" stroke="#333" stroke-width="0.16" textLength="4.09" lengthAdjust="spacingAndGlyphs">97</text>
<line x1="492.16" y1="91.20" x2="492.16" y2="92.80" stroke="#333" stroke-width="0.7"/>
<text x="491.46" y="98.15" font-size="4.9" text-anchor="middle" fill="#333" stroke="#333" stroke-width="0.16" textLength="6.13" lengthAdjust="spacingAndGlyphs">105</text>
<text x="429.70" y="105.02" font-size="6.2" text-anchor="middle" fill="#222" stroke="#222" stroke-width="0.1" textLength="29.30" lengthAdjust="spacingAndGlyphs">TIME (Min)</text>
<text x="351.50" y="50.60" font-size="6.3" text-anchor="middle" fill="#222" stroke="#222" stroke-width="0.15" textLength="50.40" lengthAdjust="spacingAndGlyphs" transform="rotate(-90 351.50 50.60)">OCR (pMoles/min)</text>
<line x1="400.50" y1="16.70" x2="400.50" y2="91.20" stroke="#5a5a5a" stroke-width="0.9"/>
<line x1="432.20" y1="16.70" x2="432.20" y2="91.20" stroke="#5a5a5a" stroke-width="0.9"/>
<line x1="465.40" y1="16.70" x2="465.40" y2="91.20" stroke="#5a5a5a" stroke-width="0.9"/>
<text x="414.20" y="19.01" font-size="4.5" text-anchor="middle" fill="#333" stroke="#333" stroke-width="0.06" textLength="25.00" lengthAdjust="spacingAndGlyphs">OLIGOMYCIN</text>
<text x="448.80" y="19.01" font-size="4.5" text-anchor="middle" fill="#333" stroke="#333" stroke-width="0.06" textLength="11.40" lengthAdjust="spacingAndGlyphs">FCCP</text>
<text x="484.40" y="19.01" font-size="4.5" text-anchor="middle" fill="#333" stroke="#333" stroke-width="0.06" textLength="18.40" lengthAdjust="spacingAndGlyphs">AA + ROT</text>
<text x="433.60" y="11.17" font-size="9.4" text-anchor="middle" fill="#111" stroke="#111" stroke-width="0.2" textLength="48.50" lengthAdjust="spacingAndGlyphs">NK1.1 Cells</text>
<polyline points="368.20,60.80 378.53,58.14 388.86,60.80 399.19,60.80 409.52,81.13 419.85,81.13 430.18,82.65 440.51,58.14 450.84,58.14 461.17,58.14 471.50,85.88 481.83,85.88 492.16,85.88" fill="none" stroke="#d06474" stroke-width="0.9" stroke-dasharray="1.5,1.0"/>
<line x1="368.20" y1="63.65" x2="368.20" y2="57.95" stroke="#a8283a" stroke-width="0.85"/>
<line x1="366.90" y1="57.95" x2="369.50" y2="57.95" stroke="#a8283a" stroke-width="0.8"/>
<line x1="366.90" y1="63.65" x2="369.50" y2="63.65" stroke="#a8283a" stroke-width="0.8"/>
<circle cx="368.20" cy="60.80" r="1.2" fill="#a8283a"/>
<line x1="378.53" y1="60.61" x2="378.53" y2="55.67" stroke="#a8283a" stroke-width="0.85"/>
<line x1="377.23" y1="55.67" x2="379.83" y2="55.67" stroke="#a8283a" stroke-width="0.8"/>
<line x1="377.23" y1="60.61" x2="379.83" y2="60.61" stroke="#a8283a" stroke-width="0.8"/>
<circle cx="378.53" cy="58.14" r="1.2" fill="#a8283a"/>
<line x1="388.86" y1="63.27" x2="388.86" y2="58.33" stroke="#a8283a" stroke-width="0.85"/>
<line x1="387.56" y1="58.33" x2="390.16" y2="58.33" stroke="#a8283a" stroke-width="0.8"/>
<line x1="387.56" y1="63.27" x2="390.16" y2="63.27" stroke="#a8283a" stroke-width="0.8"/>
<circle cx="388.86" cy="60.80" r="1.2" fill="#a8283a"/>
<line x1="399.19" y1="63.27" x2="399.19" y2="58.33" stroke="#a8283a" stroke-width="0.85"/>
<line x1="397.89" y1="58.33" x2="400.49" y2="58.33" stroke="#a8283a" stroke-width="0.8"/>
<line x1="397.89" y1="63.27" x2="400.49" y2="63.27" stroke="#a8283a" stroke-width="0.8"/>
<circle cx="399.19" cy="60.80" r="1.2" fill="#a8283a"/>
<line x1="409.52" y1="82.08" x2="409.52" y2="80.18" stroke="#a8283a" stroke-width="0.85"/>
<line x1="408.22" y1="80.18" x2="410.82" y2="80.18" stroke="#a8283a" stroke-width="0.8"/>
<line x1="408.22" y1="82.08" x2="410.82" y2="82.08" stroke="#a8283a" stroke-width="0.8"/>
<circle cx="409.52" cy="81.13" r="1.2" fill="#a8283a"/>
<line x1="419.85" y1="82.08" x2="419.85" y2="80.18" stroke="#a8283a" stroke-width="0.85"/>
<line x1="418.55" y1="80.18" x2="421.15" y2="80.18" stroke="#a8283a" stroke-width="0.8"/>
<line x1="418.55" y1="82.08" x2="421.15" y2="82.08" stroke="#a8283a" stroke-width="0.8"/>
<circle cx="419.85" cy="81.13" r="1.2" fill="#a8283a"/>
<line x1="430.18" y1="83.60" x2="430.18" y2="81.70" stroke="#a8283a" stroke-width="0.85"/>
<line x1="428.88" y1="81.70" x2="431.48" y2="81.70" stroke="#a8283a" stroke-width="0.8"/>
<line x1="428.88" y1="83.60" x2="431.48" y2="83.60" stroke="#a8283a" stroke-width="0.8"/>
<circle cx="430.18" cy="82.65" r="1.2" fill="#a8283a"/>
<line x1="440.51" y1="61.37" x2="440.51" y2="54.91" stroke="#a8283a" stroke-width="0.85"/>
<line x1="439.21" y1="54.91" x2="441.81" y2="54.91" stroke="#a8283a" stroke-width="0.8"/>
<line x1="439.21" y1="61.37" x2="441.81" y2="61.37" stroke="#a8283a" stroke-width="0.8"/>
<circle cx="440.51" cy="58.14" r="1.2" fill="#a8283a"/>
<line x1="450.84" y1="61.37" x2="450.84" y2="54.91" stroke="#a8283a" stroke-width="0.85"/>
<line x1="449.54" y1="54.91" x2="452.14" y2="54.91" stroke="#a8283a" stroke-width="0.8"/>
<line x1="449.54" y1="61.37" x2="452.14" y2="61.37" stroke="#a8283a" stroke-width="0.8"/>
<circle cx="450.84" cy="58.14" r="1.2" fill="#a8283a"/>
<line x1="461.17" y1="61.37" x2="461.17" y2="54.91" stroke="#a8283a" stroke-width="0.85"/>
<line x1="459.87" y1="54.91" x2="462.47" y2="54.91" stroke="#a8283a" stroke-width="0.8"/>
<line x1="459.87" y1="61.37" x2="462.47" y2="61.37" stroke="#a8283a" stroke-width="0.8"/>
<circle cx="461.17" cy="58.14" r="1.2" fill="#a8283a"/>
<line x1="471.50" y1="87.02" x2="471.50" y2="84.74" stroke="#a8283a" stroke-width="0.85"/>
<line x1="470.20" y1="84.74" x2="472.80" y2="84.74" stroke="#a8283a" stroke-width="0.8"/>
<line x1="470.20" y1="87.02" x2="472.80" y2="87.02" stroke="#a8283a" stroke-width="0.8"/>
<circle cx="471.50" cy="85.88" r="1.2" fill="#a8283a"/>
<line x1="481.83" y1="87.02" x2="481.83" y2="84.74" stroke="#a8283a" stroke-width="0.85"/>
<line x1="480.53" y1="84.74" x2="483.13" y2="84.74" stroke="#a8283a" stroke-width="0.8"/>
<line x1="480.53" y1="87.02" x2="483.13" y2="87.02" stroke="#a8283a" stroke-width="0.8"/>
<circle cx="481.83" cy="85.88" r="1.2" fill="#a8283a"/>
<line x1="492.16" y1="87.40" x2="492.16" y2="84.36" stroke="#a8283a" stroke-width="0.85"/>
<line x1="490.86" y1="84.36" x2="493.46" y2="84.36" stroke="#a8283a" stroke-width="0.8"/>
<line x1="490.86" y1="87.40" x2="493.46" y2="87.40" stroke="#a8283a" stroke-width="0.8"/>
<circle cx="492.16" cy="85.88" r="1.2" fill="#a8283a"/>
<polyline points="368.20,44.08 378.53,45.41 388.86,46.55 399.19,47.50 409.52,81.13 419.85,81.13 430.18,82.65 440.51,33.44 450.84,33.44 461.17,33.44 471.50,90.06 481.83,90.06 492.16,90.06" fill="none" stroke="#33408e" stroke-width="0.9"/>
<line x1="368.20" y1="50.35" x2="368.20" y2="37.81" stroke="#262f78" stroke-width="0.85"/>
<line x1="366.90" y1="37.81" x2="369.50" y2="37.81" stroke="#262f78" stroke-width="0.8"/>
<line x1="366.90" y1="50.35" x2="369.50" y2="50.35" stroke="#262f78" stroke-width="0.8"/>
<rect x="367.00" y="42.88" width="2.40" height="2.40" fill="#262f78"/>
<line x1="378.53" y1="51.68" x2="378.53" y2="39.14" stroke="#262f78" stroke-width="0.85"/>
<line x1="377.23" y1="39.14" x2="379.83" y2="39.14" stroke="#262f78" stroke-width="0.8"/>
<line x1="377.23" y1="51.68" x2="379.83" y2="51.68" stroke="#262f78" stroke-width="0.8"/>
<rect x="377.33" y="44.21" width="2.40" height="2.40" fill="#262f78"/>
<line x1="388.86" y1="53.39" x2="388.86" y2="39.71" stroke="#262f78" stroke-width="0.85"/>
<line x1="387.56" y1="39.71" x2="390.16" y2="39.71" stroke="#262f78" stroke-width="0.8"/>
<line x1="387.56" y1="53.39" x2="390.16" y2="53.39" stroke="#262f78" stroke-width="0.8"/>
<rect x="387.66" y="45.35" width="2.40" height="2.40" fill="#262f78"/>
<line x1="399.19" y1="53.96" x2="399.19" y2="41.04" stroke="#262f78" stroke-width="0.85"/>
<line x1="397.89" y1="41.04" x2="400.49" y2="41.04" stroke="#262f78" stroke-width="0.8"/>
<line x1="397.89" y1="53.96" x2="400.49" y2="53.96" stroke="#262f78" stroke-width="0.8"/>
<rect x="397.99" y="46.30" width="2.40" height="2.40" fill="#262f78"/>
<line x1="409.52" y1="82.27" x2="409.52" y2="79.99" stroke="#262f78" stroke-width="0.85"/>
<line x1="408.22" y1="79.99" x2="410.82" y2="79.99" stroke="#262f78" stroke-width="0.8"/>
<line x1="408.22" y1="82.27" x2="410.82" y2="82.27" stroke="#262f78" stroke-width="0.8"/>
<rect x="408.32" y="79.93" width="2.40" height="2.40" fill="#262f78"/>
<line x1="419.85" y1="82.27" x2="419.85" y2="79.99" stroke="#262f78" stroke-width="0.85"/>
<line x1="418.55" y1="79.99" x2="421.15" y2="79.99" stroke="#262f78" stroke-width="0.8"/>
<line x1="418.55" y1="82.27" x2="421.15" y2="82.27" stroke="#262f78" stroke-width="0.8"/>
<rect x="418.65" y="79.93" width="2.40" height="2.40" fill="#262f78"/>
<line x1="430.18" y1="85.50" x2="430.18" y2="79.80" stroke="#262f78" stroke-width="0.85"/>
<line x1="428.88" y1="79.80" x2="431.48" y2="79.80" stroke="#262f78" stroke-width="0.8"/>
<line x1="428.88" y1="85.50" x2="431.48" y2="85.50" stroke="#262f78" stroke-width="0.8"/>
<rect x="428.98" y="81.45" width="2.40" height="2.40" fill="#262f78"/>
<line x1="440.51" y1="37.81" x2="440.51" y2="29.07" stroke="#262f78" stroke-width="0.85"/>
<line x1="439.21" y1="29.07" x2="441.81" y2="29.07" stroke="#262f78" stroke-width="0.8"/>
<line x1="439.21" y1="37.81" x2="441.81" y2="37.81" stroke="#262f78" stroke-width="0.8"/>
<rect x="439.31" y="32.24" width="2.40" height="2.40" fill="#262f78"/>
<line x1="450.84" y1="40.28" x2="450.84" y2="26.60" stroke="#262f78" stroke-width="0.85"/>
<line x1="449.54" y1="26.60" x2="452.14" y2="26.60" stroke="#262f78" stroke-width="0.8"/>
<line x1="449.54" y1="40.28" x2="452.14" y2="40.28" stroke="#262f78" stroke-width="0.8"/>
<rect x="449.64" y="32.24" width="2.40" height="2.40" fill="#262f78"/>
<line x1="461.17" y1="38.76" x2="461.17" y2="28.12" stroke="#262f78" stroke-width="0.85"/>
<line x1="459.87" y1="28.12" x2="462.47" y2="28.12" stroke="#262f78" stroke-width="0.8"/>
<line x1="459.87" y1="38.76" x2="462.47" y2="38.76" stroke="#262f78" stroke-width="0.8"/>
<rect x="459.97" y="32.24" width="2.40" height="2.40" fill="#262f78"/>
<line x1="471.50" y1="90.82" x2="471.50" y2="89.30" stroke="#262f78" stroke-width="0.85"/>
<line x1="470.20" y1="89.30" x2="472.80" y2="89.30" stroke="#262f78" stroke-width="0.8"/>
<line x1="470.20" y1="90.82" x2="472.80" y2="90.82" stroke="#262f78" stroke-width="0.8"/>
<rect x="470.30" y="88.86" width="2.40" height="2.40" fill="#262f78"/>
<line x1="481.83" y1="90.82" x2="481.83" y2="89.30" stroke="#262f78" stroke-width="0.85"/>
<line x1="480.53" y1="89.30" x2="483.13" y2="89.30" stroke="#262f78" stroke-width="0.8"/>
<line x1="480.53" y1="90.82" x2="483.13" y2="90.82" stroke="#262f78" stroke-width="0.8"/>
<rect x="480.63" y="88.86" width="2.40" height="2.40" fill="#262f78"/>
<line x1="492.16" y1="90.82" x2="492.16" y2="89.30" stroke="#262f78" stroke-width="0.85"/>
<line x1="490.86" y1="89.30" x2="493.46" y2="89.30" stroke="#262f78" stroke-width="0.8"/>
<line x1="490.86" y1="90.82" x2="493.46" y2="90.82" stroke="#262f78" stroke-width="0.8"/>
<rect x="490.96" y="88.86" width="2.40" height="2.40" fill="#262f78"/>
<line x1="473.70" y1="34.70" x2="479.60" y2="34.70" stroke="#6a2028" stroke-width="0.7"/>
<ellipse cx="476.80" cy="34.70" rx="1.3" ry="1.0" fill="#6a2028"/>
<text x="480.80" y="37.06" font-size="6.6" text-anchor="start" fill="#cc5868" stroke="#cc5868" stroke-width="0.1" textLength="28.20" lengthAdjust="spacingAndGlyphs">NK control</text>
<line x1="473.70" y1="43.00" x2="479.60" y2="43.00" stroke="#1c2240" stroke-width="0.7"/>
<ellipse cx="476.80" cy="43.00" rx="1.3" ry="1.0" fill="#1c2240"/>
<text x="480.80" y="45.36" font-size="6.6" text-anchor="start" fill="#424878" stroke="#424878" stroke-width="0.1" textLength="21.00" lengthAdjust="spacingAndGlyphs">NK AAT</text>
<line x1="17.60" y1="135.70" x2="17.60" y2="213.10" stroke="#333" stroke-width="0.85"/>
<line x1="17.60" y1="213.10" x2="154.60" y2="213.10" stroke="#333" stroke-width="0.85"/>
<line x1="16.00" y1="213.10" x2="18.00" y2="213.10" stroke="#333" stroke-width="0.7"/>
<text x="15.50" y="215.15" font-size="4.9" text-anchor="end" fill="#333" stroke="#333" stroke-width="0.16" textLength="2.18" lengthAdjust="spacingAndGlyphs">0</text>
<line x1="16.00" y1="193.90" x2="18.00" y2="193.90" stroke="#333" stroke-width="0.7"/>
<text x="15.50" y="195.95" font-size="4.9" text-anchor="end" fill="#333" stroke="#333" stroke-width="0.16" textLength="4.36" lengthAdjust="spacingAndGlyphs">50</text>
<line x1="16.00" y1="174.70" x2="18.00" y2="174.70" stroke="#333" stroke-width="0.7"/>
<text x="15.50" y="176.75" font-size="4.9" text-anchor="end" fill="#333" stroke="#333" stroke-width="0.16" textLength="6.54" lengthAdjust="spacingAndGlyphs">100</text>
<line x1="16.00" y1="155.50" x2="18.00" y2="155.50" stroke="#333" stroke-width="0.7"/>
<text x="15.50" y="157.55" font-size="4.9" text-anchor="end" fill="#333" stroke="#333" stroke-width="0.16" textLength="6.54" lengthAdjust="spacingAndGlyphs">150</text>
<line x1="16.00" y1="136.30" x2="18.00" y2="136.30" stroke="#333" stroke-width="0.7"/>
<text x="15.50" y="138.35" font-size="4.9" text-anchor="end" fill="#333" stroke="#333" stroke-width="0.16" textLength="6.54" lengthAdjust="spacingAndGlyphs">200</text>
<line x1="16.40" y1="203.50" x2="18.00" y2="203.50" stroke="#333" stroke-width="0.6"/>
<line x1="16.40" y1="184.30" x2="18.00" y2="184.30" stroke="#333" stroke-width="0.6"/>
<line x1="16.40" y1="165.10" x2="18.00" y2="165.10" stroke="#333" stroke-width="0.6"/>
<line x1="16.40" y1="145.90" x2="18.00" y2="145.90" stroke="#333" stroke-width="0.6"/>
<line x1="22.60" y1="213.10" x2="22.60" y2="214.70" stroke="#333" stroke-width="0.7"/>
<text x="21.90" y="219.65" font-size="4.9" text-anchor="middle" fill="#333" stroke="#333" stroke-width="0.16" textLength="2.04" lengthAdjust="spacingAndGlyphs">1</text>
<line x1="33.20" y1="213.10" x2="33.20" y2="214.70" stroke="#333" stroke-width="0.7"/>
<text x="32.50" y="219.65" font-size="4.9" text-anchor="middle" fill="#333" stroke="#333" stroke-width="0.16" textLength="4.09" lengthAdjust="spacingAndGlyphs">10</text>
<line x1="43.80" y1="213.10" x2="43.80" y2="214.70" stroke="#333" stroke-width="0.7"/>
<text x="43.10" y="219.65" font-size="4.9" text-anchor="middle" fill="#333" stroke="#333" stroke-width="0.16" textLength="4.09" lengthAdjust="spacingAndGlyphs">19</text>
<line x1="54.40" y1="213.10" x2="54.40" y2="214.70" stroke="#333" stroke-width="0.7"/>
<text x="53.70" y="219.65" font-size="4.9" text-anchor="middle" fill="#333" stroke="#333" stroke-width="0.16" textLength="4.09" lengthAdjust="spacingAndGlyphs">27</text>
<line x1="65.00" y1="213.10" x2="65.00" y2="214.70" stroke="#333" stroke-width="0.7"/>
<text x="64.30" y="219.65" font-size="4.9" text-anchor="middle" fill="#333" stroke="#333" stroke-width="0.16" textLength="4.09" lengthAdjust="spacingAndGlyphs">36</text>
<line x1="75.60" y1="213.10" x2="75.60" y2="214.70" stroke="#333" stroke-width="0.7"/>
<text x="74.90" y="219.65" font-size="4.9" text-anchor="middle" fill="#333" stroke="#333" stroke-width="0.16" textLength="4.09" lengthAdjust="spacingAndGlyphs">45</text>
<line x1="86.20" y1="213.10" x2="86.20" y2="214.70" stroke="#333" stroke-width="0.7"/>
<text x="85.50" y="219.65" font-size="4.9" text-anchor="middle" fill="#333" stroke="#333" stroke-width="0.16" textLength="4.09" lengthAdjust="spacingAndGlyphs">53</text>
<line x1="96.80" y1="213.10" x2="96.80" y2="214.70" stroke="#333" stroke-width="0.7"/>
<text x="96.10" y="219.65" font-size="4.9" text-anchor="middle" fill="#333" stroke="#333" stroke-width="0.16" textLength="4.09" lengthAdjust="spacingAndGlyphs">62</text>
<line x1="107.40" y1="213.10" x2="107.40" y2="214.70" stroke="#333" stroke-width="0.7"/>
<text x="106.70" y="219.65" font-size="4.9" text-anchor="middle" fill="#333" stroke="#333" stroke-width="0.16" textLength="4.09" lengthAdjust="spacingAndGlyphs">71</text>
<line x1="118.00" y1="213.10" x2="118.00" y2="214.70" stroke="#333" stroke-width="0.7"/>
<text x="117.30" y="219.65" font-size="4.9" text-anchor="middle" fill="#333" stroke="#333" stroke-width="0.16" textLength="4.09" lengthAdjust="spacingAndGlyphs">79</text>
<line x1="128.60" y1="213.10" x2="128.60" y2="214.70" stroke="#333" stroke-width="0.7"/>
<text x="127.90" y="219.65" font-size="4.9" text-anchor="middle" fill="#333" stroke="#333" stroke-width="0.16" textLength="4.09" lengthAdjust="spacingAndGlyphs">88</text>
<line x1="139.20" y1="213.10" x2="139.20" y2="214.70" stroke="#333" stroke-width="0.7"/>
<text x="138.50" y="219.65" font-size="4.9" text-anchor="middle" fill="#333" stroke="#333" stroke-width="0.16" textLength="4.09" lengthAdjust="spacingAndGlyphs">97</text>
<line x1="149.80" y1="213.10" x2="149.80" y2="214.70" stroke="#333" stroke-width="0.7"/>
<text x="149.10" y="219.65" font-size="4.9" text-anchor="middle" fill="#333" stroke="#333" stroke-width="0.16" textLength="6.13" lengthAdjust="spacingAndGlyphs">105</text>
<text x="86.70" y="226.32" font-size="6.2" text-anchor="middle" fill="#222" stroke="#222" stroke-width="0.1" textLength="30.30" lengthAdjust="spacingAndGlyphs">TIME (Min)</text>
<text x="6.20" y="175.20" font-size="6.3" text-anchor="middle" fill="#222" stroke="#222" stroke-width="0.15" textLength="50.00" lengthAdjust="spacingAndGlyphs" transform="rotate(-90 6.20 175.20)">OCR (pMoles/min)</text>
<line x1="56.30" y1="137.80" x2="56.30" y2="213.10" stroke="#5a5a5a" stroke-width="0.9"/>
<line x1="88.20" y1="137.80" x2="88.20" y2="213.10" stroke="#5a5a5a" stroke-width="0.9"/>
<line x1="121.80" y1="137.80" x2="121.80" y2="213.10" stroke="#5a5a5a" stroke-width="0.9"/>
<text x="71.60" y="140.61" font-size="4.5" text-anchor="middle" fill="#333" stroke="#333" stroke-width="0.06" textLength="26.80" lengthAdjust="spacingAndGlyphs">OLIGOMYCIN</text>
<text x="105.20" y="140.61" font-size="4.5" text-anchor="middle" fill="#333" stroke="#333" stroke-width="0.06" textLength="11.40" lengthAdjust="spacingAndGlyphs">FCCP</text>
<text x="141.60" y="140.61" font-size="4.5" text-anchor="middle" fill="#333" stroke="#333" stroke-width="0.06" textLength="18.40" lengthAdjust="spacingAndGlyphs">AA + ROT</text>
<text x="91.60" y="130.17" font-size="9.4" text-anchor="middle" fill="#111" stroke="#111" stroke-width="0.2" textLength="101.70" lengthAdjust="spacingAndGlyphs">CD4+CD25+FoxP3 Cells</text>
<polyline points="22.60,187.37 33.20,186.60 43.80,186.22 54.40,182.38 65.00,192.75 75.60,190.44 86.20,191.60 96.80,178.16 107.40,183.92 118.00,185.45 128.60,206.96 139.20,207.72 149.80,208.11" fill="none" stroke="#d06474" stroke-width="0.9" stroke-dasharray="1.5,1.0"/>
<line x1="22.60" y1="193.13" x2="22.60" y2="181.61" stroke="#a8283a" stroke-width="0.85"/>
<line x1="21.30" y1="181.61" x2="23.90" y2="181.61" stroke="#a8283a" stroke-width="0.8"/>
<line x1="21.30" y1="193.13" x2="23.90" y2="193.13" stroke="#a8283a" stroke-width="0.8"/>
<circle cx="22.60" cy="187.37" r="1.2" fill="#a8283a"/>
<line x1="33.20" y1="190.44" x2="33.20" y2="182.76" stroke="#a8283a" stroke-width="0.85"/>
<line x1="31.90" y1="182.76" x2="34.50" y2="182.76" stroke="#a8283a" stroke-width="0.8"/>
<line x1="31.90" y1="190.44" x2="34.50" y2="190.44" stroke="#a8283a" stroke-width="0.8"/>
<circle cx="33.20" cy="186.60" r="1.2" fill="#a8283a"/>
<line x1="43.80" y1="190.83" x2="43.80" y2="181.61" stroke="#a8283a" stroke-width="0.85"/>
<line x1="42.50" y1="181.61" x2="45.10" y2="181.61" stroke="#a8283a" stroke-width="0.8"/>
<line x1="42.50" y1="190.83" x2="45.10" y2="190.83" stroke="#a8283a" stroke-width="0.8"/>
<circle cx="43.80" cy="186.22" r="1.2" fill="#a8283a"/>
<line x1="54.40" y1="186.22" x2="54.40" y2="178.54" stroke="#a8283a" stroke-width="0.85"/>
<line x1="53.10" y1="178.54" x2="55.70" y2="178.54" stroke="#a8283a" stroke-width="0.8"/>
<line x1="53.10" y1="186.22" x2="55.70" y2="186.22" stroke="#a8283a" stroke-width="0.8"/>
<circle cx="54.40" cy="182.38" r="1.2" fill="#a8283a"/>
<line x1="65.00" y1="195.05" x2="65.00" y2="190.44" stroke="#a8283a" stroke-width="0.85"/>
<line x1="63.70" y1="190.44" x2="66.30" y2="190.44" stroke="#a8283a" stroke-width="0.8"/>
<line x1="63.70" y1="195.05" x2="66.30" y2="195.05" stroke="#a8283a" stroke-width="0.8"/>
<circle cx="65.00" cy="192.75" r="1.2" fill="#a8283a"/>
<line x1="75.60" y1="192.75" x2="75.60" y2="188.14" stroke="#a8283a" stroke-width="0.85"/>
<line x1="74.30" y1="188.14" x2="76.90" y2="188.14" stroke="#a8283a" stroke-width="0.8"/>
<line x1="74.30" y1="192.75" x2="76.90" y2="192.75" stroke="#a8283a" stroke-width="0.8"/>
<circle cx="75.60" cy="190.44" r="1.2" fill="#a8283a"/>
<line x1="86.20" y1="193.90" x2="86.20" y2="189.29" stroke="#a8283a" stroke-width="0.85"/>
<line x1="84.90" y1="189.29" x2="87.50" y2="189.29" stroke="#a8283a" stroke-width="0.8"/>
<line x1="84.90" y1="193.90" x2="87.50" y2="193.90" stroke="#a8283a" stroke-width="0.8"/>
<circle cx="86.20" cy="191.60" r="1.2" fill="#a8283a"/>
<line x1="96.80" y1="184.68" x2="96.80" y2="171.63" stroke="#a8283a" stroke-width="0.85"/>
<line x1="95.50" y1="171.63" x2="98.10" y2="171.63" stroke="#a8283a" stroke-width="0.8"/>
<line x1="95.50" y1="184.68" x2="98.10" y2="184.68" stroke="#a8283a" stroke-width="0.8"/>
<circle cx="96.80" cy="178.16" r="1.2" fill="#a8283a"/>
<line x1="107.40" y1="190.44" x2="107.40" y2="177.39" stroke="#a8283a" stroke-width="0.85"/>
<line x1="106.10" y1="177.39" x2="108.70" y2="177.39" stroke="#a8283a" stroke-width="0.8"/>
<line x1="106.10" y1="190.44" x2="108.70" y2="190.44" stroke="#a8283a" stroke-width="0.8"/>
<circle cx="107.40" cy="183.92" r="1.2" fill="#a8283a"/>
<line x1="118.00" y1="191.21" x2="118.00" y2="179.69" stroke="#a8283a" stroke-width="0.85"/>
<line x1="116.70" y1="179.69" x2="119.30" y2="179.69" stroke="#a8283a" stroke-width="0.8"/>
<line x1="116.70" y1="191.21" x2="119.30" y2="191.21" stroke="#a8283a" stroke-width="0.8"/>
<circle cx="118.00" cy="185.45" r="1.2" fill="#a8283a"/>
<line x1="128.60" y1="208.88" x2="128.60" y2="205.04" stroke="#a8283a" stroke-width="0.85"/>
<line x1="127.30" y1="205.04" x2="129.90" y2="205.04" stroke="#a8283a" stroke-width="0.8"/>
<line x1="127.30" y1="208.88" x2="129.90" y2="208.88" stroke="#a8283a" stroke-width="0.8"/>
<circle cx="128.60" cy="206.96" r="1.2" fill="#a8283a"/>
<line x1="139.20" y1="209.64" x2="139.20" y2="205.80" stroke="#a8283a" stroke-width="0.85"/>
<line x1="137.90" y1="205.80" x2="140.50" y2="205.80" stroke="#a8283a" stroke-width="0.8"/>
<line x1="137.90" y1="209.64" x2="140.50" y2="209.64" stroke="#a8283a" stroke-width="0.8"/>
<circle cx="139.20" cy="207.72" r="1.2" fill="#a8283a"/>
<line x1="149.80" y1="210.03" x2="149.80" y2="206.19" stroke="#a8283a" stroke-width="0.85"/>
<line x1="148.50" y1="206.19" x2="151.10" y2="206.19" stroke="#a8283a" stroke-width="0.8"/>
<line x1="148.50" y1="210.03" x2="151.10" y2="210.03" stroke="#a8283a" stroke-width="0.8"/>
<circle cx="149.80" cy="208.11" r="1.2" fill="#a8283a"/>
<polyline points="22.60,151.66 33.20,163.18 43.80,155.50 54.40,153.96 65.00,191.98 75.60,189.29 86.20,193.13 96.80,158.96 107.40,160.49 118.00,165.48 128.60,210.41 139.20,210.41 149.80,210.41" fill="none" stroke="#33408e" stroke-width="0.9"/>
<line x1="22.60" y1="156.27" x2="22.60" y2="147.05" stroke="#262f78" stroke-width="0.85"/>
<line x1="21.30" y1="147.05" x2="23.90" y2="147.05" stroke="#262f78" stroke-width="0.8"/>
<line x1="21.30" y1="156.27" x2="23.90" y2="156.27" stroke="#262f78" stroke-width="0.8"/>
<rect x="21.40" y="150.46" width="2.40" height="2.40" fill="#262f78"/>
<line x1="33.20" y1="173.16" x2="33.20" y2="153.20" stroke="#262f78" stroke-width="0.85"/>
<line x1="31.90" y1="153.20" x2="34.50" y2="153.20" stroke="#262f78" stroke-width="0.8"/>
<line x1="31.90" y1="173.16" x2="34.50" y2="173.16" stroke="#262f78" stroke-width="0.8"/>
<rect x="32.00" y="161.98" width="2.40" height="2.40" fill="#262f78"/>
<line x1="43.80" y1="159.34" x2="43.80" y2="151.66" stroke="#262f78" stroke-width="0.85"/>
<line x1="42.50" y1="151.66" x2="45.10" y2="151.66" stroke="#262f78" stroke-width="0.8"/>
<line x1="42.50" y1="159.34" x2="45.10" y2="159.34" stroke="#262f78" stroke-width="0.8"/>
<rect x="42.60" y="154.30" width="2.40" height="2.40" fill="#262f78"/>
<line x1="54.40" y1="161.64" x2="54.40" y2="146.28" stroke="#262f78" stroke-width="0.85"/>
<line x1="53.10" y1="146.28" x2="55.70" y2="146.28" stroke="#262f78" stroke-width="0.8"/>
<line x1="53.10" y1="161.64" x2="55.70" y2="161.64" stroke="#262f78" stroke-width="0.8"/>
<rect x="53.20" y="152.76" width="2.40" height="2.40" fill="#262f78"/>
<line x1="65.00" y1="194.28" x2="65.00" y2="189.68" stroke="#262f78" stroke-width="0.85"/>
<line x1="63.70" y1="189.68" x2="66.30" y2="189.68" stroke="#262f78" stroke-width="0.8"/>
<line x1="63.70" y1="194.28" x2="66.30" y2="194.28" stroke="#262f78" stroke-width="0.8"/>
<rect x="63.80" y="190.78" width="2.40" height="2.40" fill="#262f78"/>
<line x1="75.60" y1="191.60" x2="75.60" y2="186.99" stroke="#262f78" stroke-width="0.85"/>
<line x1="74.30" y1="186.99" x2="76.90" y2="186.99" stroke="#262f78" stroke-width="0.8"/>
<line x1="74.30" y1="191.60" x2="76.90" y2="191.60" stroke="#262f78" stroke-width="0.8"/>
<rect x="74.40" y="188.09" width="2.40" height="2.40" fill="#262f78"/>
<line x1="86.20" y1="196.97" x2="86.20" y2="189.29" stroke="#262f78" stroke-width="0.85"/>
<line x1="84.90" y1="189.29" x2="87.50" y2="189.29" stroke="#262f78" stroke-width="0.8"/>
<line x1="84.90" y1="196.97" x2="87.50" y2="196.97" stroke="#262f78" stroke-width="0.8"/>
<rect x="85.00" y="191.93" width="2.40" height="2.40" fill="#262f78"/>
<line x1="96.80" y1="164.72" x2="96.80" y2="153.20" stroke="#262f78" stroke-width="0.85"/>
<line x1="95.50" y1="153.20" x2="98.10" y2="153.20" stroke="#262f78" stroke-width="0.8"/>
<line x1="95.50" y1="164.72" x2="98.10" y2="164.72" stroke="#262f78" stroke-width="0.8"/>
<rect x="95.60" y="157.76" width="2.40" height="2.40" fill="#262f78"/>
<line x1="107.40" y1="167.02" x2="107.40" y2="153.96" stroke="#262f78" stroke-width="0.85"/>
<line x1="106.10" y1="153.96" x2="108.70" y2="153.96" stroke="#262f78" stroke-width="0.8"/>
<line x1="106.10" y1="167.02" x2="108.70" y2="167.02" stroke="#262f78" stroke-width="0.8"/>
<rect x="106.20" y="159.29" width="2.40" height="2.40" fill="#262f78"/>
<line x1="118.00" y1="171.24" x2="118.00" y2="159.72" stroke="#262f78" stroke-width="0.85"/>
<line x1="116.70" y1="159.72" x2="119.30" y2="159.72" stroke="#262f78" stroke-width="0.8"/>
<line x1="116.70" y1="171.24" x2="119.30" y2="171.24" stroke="#262f78" stroke-width="0.8"/>
<rect x="116.80" y="164.28" width="2.40" height="2.40" fill="#262f78"/>
<line x1="128.60" y1="211.95" x2="128.60" y2="208.88" stroke="#262f78" stroke-width="0.85"/>
<line x1="127.30" y1="208.88" x2="129.90" y2="208.88" stroke="#262f78" stroke-width="0.8"/>
<line x1="127.30" y1="211.95" x2="129.90" y2="211.95" stroke="#262f78" stroke-width="0.8"/>
<rect x="127.40" y="209.21" width="2.40" height="2.40" fill="#262f78"/>
<line x1="139.20" y1="211.95" x2="139.20" y2="208.88" stroke="#262f78" stroke-width="0.85"/>
<line x1="137.90" y1="208.88" x2="140.50" y2="208.88" stroke="#262f78" stroke-width="0.8"/>
<line x1="137.90" y1="211.95" x2="140.50" y2="211.95" stroke="#262f78" stroke-width="0.8"/>
<rect x="138.00" y="209.21" width="2.40" height="2.40" fill="#262f78"/>
<line x1="149.80" y1="211.95" x2="149.80" y2="208.88" stroke="#262f78" stroke-width="0.85"/>
<line x1="148.50" y1="208.88" x2="151.10" y2="208.88" stroke="#262f78" stroke-width="0.8"/>
<line x1="148.50" y1="211.95" x2="151.10" y2="211.95" stroke="#262f78" stroke-width="0.8"/>
<rect x="148.60" y="209.21" width="2.40" height="2.40" fill="#262f78"/>
<line x1="130.90" y1="154.60" x2="136.80" y2="154.60" stroke="#6a2028" stroke-width="0.7"/>
<ellipse cx="134.00" cy="154.60" rx="1.3" ry="1.0" fill="#6a2028"/>
<text x="138.00" y="156.96" font-size="6.6" text-anchor="start" fill="#cc5868" stroke="#cc5868" stroke-width="0.1" textLength="32.20" lengthAdjust="spacingAndGlyphs">Treg control</text>
<line x1="130.90" y1="162.00" x2="136.80" y2="162.00" stroke="#1c2240" stroke-width="0.7"/>
<ellipse cx="134.00" cy="162.00" rx="1.3" ry="1.0" fill="#1c2240"/>
<text x="138.00" y="164.36" font-size="6.6" text-anchor="start" fill="#424878" stroke="#424878" stroke-width="0.1" textLength="24.20" lengthAdjust="spacingAndGlyphs">Treg AAT</text>
<line x1="188.50" y1="135.40" x2="188.50" y2="213.20" stroke="#333" stroke-width="0.85"/>
<line x1="188.50" y1="213.20" x2="325.60" y2="213.20" stroke="#333" stroke-width="0.85"/>
<line x1="186.90" y1="213.20" x2="188.90" y2="213.20" stroke="#333" stroke-width="0.7"/>
<text x="186.40" y="215.25" font-size="4.9" text-anchor="end" fill="#333" stroke="#333" stroke-width="0.16" textLength="2.18" lengthAdjust="spacingAndGlyphs">0</text>
<line x1="186.90" y1="191.21" x2="188.90" y2="191.21" stroke="#333" stroke-width="0.7"/>
<text x="186.40" y="193.26" font-size="4.9" text-anchor="end" fill="#333" stroke="#333" stroke-width="0.16" textLength="4.36" lengthAdjust="spacingAndGlyphs">50</text>
<line x1="186.90" y1="169.21" x2="188.90" y2="169.21" stroke="#333" stroke-width="0.7"/>
<text x="186.40" y="171.27" font-size="4.9" text-anchor="end" fill="#333" stroke="#333" stroke-width="0.16" textLength="6.54" lengthAdjust="spacingAndGlyphs">100</text>
<line x1="186.90" y1="147.22" x2="188.90" y2="147.22" stroke="#333" stroke-width="0.7"/>
<text x="186.40" y="149.27" font-size="4.9" text-anchor="end" fill="#333" stroke="#333" stroke-width="0.16" textLength="6.54" lengthAdjust="spacingAndGlyphs">150</text>
<line x1="187.30" y1="202.20" x2="188.90" y2="202.20" stroke="#333" stroke-width="0.6"/>
<line x1="187.30" y1="180.21" x2="188.90" y2="180.21" stroke="#333" stroke-width="0.6"/>
<line x1="187.30" y1="158.21" x2="188.90" y2="158.21" stroke="#333" stroke-width="0.6"/>
<line x1="194.00" y1="213.20" x2="194.00" y2="214.80" stroke="#333" stroke-width="0.7"/>
<text x="193.30" y="220.25" font-size="4.9" text-anchor="middle" fill="#333" stroke="#333" stroke-width="0.16" textLength="2.04" lengthAdjust="spacingAndGlyphs">1</text>
<line x1="204.48" y1="213.20" x2="204.48" y2="214.80" stroke="#333" stroke-width="0.7"/>
<text x="203.78" y="220.25" font-size="4.9" text-anchor="middle" fill="#333" stroke="#333" stroke-width="0.16" textLength="4.09" lengthAdjust="spacingAndGlyphs">10</text>
<line x1="214.96" y1="213.20" x2="214.96" y2="214.80" stroke="#333" stroke-width="0.7"/>
<text x="214.26" y="220.25" font-size="4.9" text-anchor="middle" fill="#333" stroke="#333" stroke-width="0.16" textLength="4.09" lengthAdjust="spacingAndGlyphs">19</text>
<line x1="225.44" y1="213.20" x2="225.44" y2="214.80" stroke="#333" stroke-width="0.7"/>
<text x="224.74" y="220.25" font-size="4.9" text-anchor="middle" fill="#333" stroke="#333" stroke-width="0.16" textLength="4.09" lengthAdjust="spacingAndGlyphs">27</text>
<line x1="235.92" y1="213.20" x2="235.92" y2="214.80" stroke="#333" stroke-width="0.7"/>
<text x="235.22" y="220.25" font-size="4.9" text-anchor="middle" fill="#333" stroke="#333" stroke-width="0.16" textLength="4.09" lengthAdjust="spacingAndGlyphs">36</text>
<line x1="246.40" y1="213.20" x2="246.40" y2="214.80" stroke="#333" stroke-width="0.7"/>
<text x="245.70" y="220.25" font-size="4.9" text-anchor="middle" fill="#333" stroke="#333" stroke-width="0.16" textLength="4.09" lengthAdjust="spacingAndGlyphs">45</text>
<line x1="256.88" y1="213.20" x2="256.88" y2="214.80" stroke="#333" stroke-width="0.7"/>
<text x="256.18" y="220.25" font-size="4.9" text-anchor="middle" fill="#333" stroke="#333" stroke-width="0.16" textLength="4.09" lengthAdjust="spacingAndGlyphs">53</text>
<line x1="267.36" y1="213.20" x2="267.36" y2="214.80" stroke="#333" stroke-width="0.7"/>
<text x="266.66" y="220.25" font-size="4.9" text-anchor="middle" fill="#333" stroke="#333" stroke-width="0.16" textLength="4.09" lengthAdjust="spacingAndGlyphs">62</text>
<line x1="277.84" y1="213.20" x2="277.84" y2="214.80" stroke="#333" stroke-width="0.7"/>
<text x="277.14" y="220.25" font-size="4.9" text-anchor="middle" fill="#333" stroke="#333" stroke-width="0.16" textLength="4.09" lengthAdjust="spacingAndGlyphs">71</text>
<line x1="288.32" y1="213.20" x2="288.32" y2="214.80" stroke="#333" stroke-width="0.7"/>
<text x="287.62" y="220.25" font-size="4.9" text-anchor="middle" fill="#333" stroke="#333" stroke-width="0.16" textLength="4.09" lengthAdjust="spacingAndGlyphs">79</text>
<line x1="298.80" y1="213.20" x2="298.80" y2="214.80" stroke="#333" stroke-width="0.7"/>
<text x="298.10" y="220.25" font-size="4.9" text-anchor="middle" fill="#333" stroke="#333" stroke-width="0.16" textLength="4.09" lengthAdjust="spacingAndGlyphs">88</text>
<line x1="309.28" y1="213.20" x2="309.28" y2="214.80" stroke="#333" stroke-width="0.7"/>
<text x="308.58" y="220.25" font-size="4.9" text-anchor="middle" fill="#333" stroke="#333" stroke-width="0.16" textLength="4.09" lengthAdjust="spacingAndGlyphs">97</text>
<line x1="319.76" y1="213.20" x2="319.76" y2="214.80" stroke="#333" stroke-width="0.7"/>
<text x="319.06" y="220.25" font-size="4.9" text-anchor="middle" fill="#333" stroke="#333" stroke-width="0.16" textLength="6.13" lengthAdjust="spacingAndGlyphs">105</text>
<text x="258.00" y="228.42" font-size="6.2" text-anchor="middle" fill="#222" stroke="#222" stroke-width="0.1" textLength="29.00" lengthAdjust="spacingAndGlyphs">TIME (Min)</text>
<text x="178.00" y="174.50" font-size="6.3" text-anchor="middle" fill="#222" stroke="#222" stroke-width="0.15" textLength="51.00" lengthAdjust="spacingAndGlyphs" transform="rotate(-90 178.00 174.50)">OCR (pMoles/min)</text>
<line x1="227.60" y1="137.50" x2="227.60" y2="213.20" stroke="#5a5a5a" stroke-width="0.9"/>
<line x1="259.50" y1="137.50" x2="259.50" y2="213.20" stroke="#5a5a5a" stroke-width="0.9"/>
<line x1="292.60" y1="137.50" x2="292.60" y2="213.20" stroke="#5a5a5a" stroke-width="0.9"/>
<text x="243.00" y="143.91" font-size="4.5" text-anchor="middle" fill="#333" stroke="#333" stroke-width="0.06" textLength="25.00" lengthAdjust="spacingAndGlyphs">OLIGOMYCIN</text>
<text x="276.00" y="143.91" font-size="4.5" text-anchor="middle" fill="#333" stroke="#333" stroke-width="0.06" textLength="11.40" lengthAdjust="spacingAndGlyphs">FCCP</text>
<text x="312.80" y="143.91" font-size="4.5" text-anchor="middle" fill="#333" stroke="#333" stroke-width="0.06" textLength="18.40" lengthAdjust="spacingAndGlyphs">AA + ROT</text>
<text x="266.10" y="130.17" font-size="9.4" text-anchor="middle" fill="#111" stroke="#111" stroke-width="0.2" textLength="50.00" lengthAdjust="spacingAndGlyphs">CD11c Cells</text>
<polyline points="194.00,170.97 204.48,171.50 214.96,172.91 225.44,177.57 235.92,192.53 246.40,197.80 256.88,197.80 267.36,185.49 277.84,191.65 288.32,194.72 298.80,207.04 309.28,209.68 319.76,212.98" fill="none" stroke="#d06474" stroke-width="0.9" stroke-dasharray="1.5,1.0"/>
<line x1="194.00" y1="173.87" x2="194.00" y2="168.07" stroke="#a8283a" stroke-width="0.85"/>
<line x1="192.70" y1="168.07" x2="195.30" y2="168.07" stroke="#a8283a" stroke-width="0.8"/>
<line x1="192.70" y1="173.87" x2="195.30" y2="173.87" stroke="#a8283a" stroke-width="0.8"/>
<circle cx="194.00" cy="170.97" r="1.2" fill="#a8283a"/>
<line x1="204.48" y1="175.90" x2="204.48" y2="167.10" stroke="#a8283a" stroke-width="0.85"/>
<line x1="203.18" y1="167.10" x2="205.78" y2="167.10" stroke="#a8283a" stroke-width="0.8"/>
<line x1="203.18" y1="175.90" x2="205.78" y2="175.90" stroke="#a8283a" stroke-width="0.8"/>
<circle cx="204.48" cy="171.50" r="1.2" fill="#a8283a"/>
<line x1="214.96" y1="174.45" x2="214.96" y2="171.37" stroke="#a8283a" stroke-width="0.85"/>
<line x1="213.66" y1="171.37" x2="216.26" y2="171.37" stroke="#a8283a" stroke-width="0.8"/>
<line x1="213.66" y1="174.45" x2="216.26" y2="174.45" stroke="#a8283a" stroke-width="0.8"/>
<circle cx="214.96" cy="172.91" r="1.2" fill="#a8283a"/>
<line x1="225.44" y1="180.21" x2="225.44" y2="174.93" stroke="#a8283a" stroke-width="0.85"/>
<line x1="224.14" y1="174.93" x2="226.74" y2="174.93" stroke="#a8283a" stroke-width="0.8"/>
<line x1="224.14" y1="180.21" x2="226.74" y2="180.21" stroke="#a8283a" stroke-width="0.8"/>
<circle cx="225.44" cy="177.57" r="1.2" fill="#a8283a"/>
<line x1="235.92" y1="194.72" x2="235.92" y2="190.33" stroke="#a8283a" stroke-width="0.85"/>
<line x1="234.62" y1="190.33" x2="237.22" y2="190.33" stroke="#a8283a" stroke-width="0.8"/>
<line x1="234.62" y1="194.72" x2="237.22" y2="194.72" stroke="#a8283a" stroke-width="0.8"/>
<circle cx="235.92" cy="192.53" r="1.2" fill="#a8283a"/>
<line x1="246.40" y1="199.12" x2="246.40" y2="196.48" stroke="#a8283a" stroke-width="0.85"/>
<line x1="245.10" y1="196.48" x2="247.70" y2="196.48" stroke="#a8283a" stroke-width="0.8"/>
<line x1="245.10" y1="199.12" x2="247.70" y2="199.12" stroke="#a8283a" stroke-width="0.8"/>
<circle cx="246.40" cy="197.80" r="1.2" fill="#a8283a"/>
<line x1="256.88" y1="199.12" x2="256.88" y2="196.48" stroke="#a8283a" stroke-width="0.85"/>
<line x1="255.58" y1="196.48" x2="258.18" y2="196.48" stroke="#a8283a" stroke-width="0.8"/>
<line x1="255.58" y1="199.12" x2="258.18" y2="199.12" stroke="#a8283a" stroke-width="0.8"/>
<circle cx="256.88" cy="197.80" r="1.2" fill="#a8283a"/>
<line x1="267.36" y1="188.13" x2="267.36" y2="182.85" stroke="#a8283a" stroke-width="0.85"/>
<line x1="266.06" y1="182.85" x2="268.66" y2="182.85" stroke="#a8283a" stroke-width="0.8"/>
<line x1="266.06" y1="188.13" x2="268.66" y2="188.13" stroke="#a8283a" stroke-width="0.8"/>
<circle cx="267.36" cy="185.49" r="1.2" fill="#a8283a"/>
<line x1="277.84" y1="193.85" x2="277.84" y2="189.45" stroke="#a8283a" stroke-width="0.85"/>
<line x1="276.54" y1="189.45" x2="279.14" y2="189.45" stroke="#a8283a" stroke-width="0.8"/>
<line x1="276.54" y1="193.85" x2="279.14" y2="193.85" stroke="#a8283a" stroke-width="0.8"/>
<circle cx="277.84" cy="191.65" r="1.2" fill="#a8283a"/>
<line x1="288.32" y1="196.92" x2="288.32" y2="192.53" stroke="#a8283a" stroke-width="0.85"/>
<line x1="287.02" y1="192.53" x2="289.62" y2="192.53" stroke="#a8283a" stroke-width="0.8"/>
<line x1="287.02" y1="196.92" x2="289.62" y2="196.92" stroke="#a8283a" stroke-width="0.8"/>
<circle cx="288.32" cy="194.72" r="1.2" fill="#a8283a"/>
<line x1="298.80" y1="208.80" x2="298.80" y2="205.28" stroke="#a8283a" stroke-width="0.85"/>
<line x1="297.50" y1="205.28" x2="300.10" y2="205.28" stroke="#a8283a" stroke-width="0.8"/>
<line x1="297.50" y1="208.80" x2="300.10" y2="208.80" stroke="#a8283a" stroke-width="0.8"/>
<circle cx="298.80" cy="207.04" r="1.2" fill="#a8283a"/>
<line x1="309.28" y1="211.44" x2="309.28" y2="207.92" stroke="#a8283a" stroke-width="0.85"/>
<line x1="307.98" y1="207.92" x2="310.58" y2="207.92" stroke="#a8283a" stroke-width="0.8"/>
<line x1="307.98" y1="211.44" x2="310.58" y2="211.44" stroke="#a8283a" stroke-width="0.8"/>
<circle cx="309.28" cy="209.68" r="1.2" fill="#a8283a"/>
<line x1="319.76" y1="214.74" x2="319.76" y2="211.22" stroke="#a8283a" stroke-width="0.85"/>
<line x1="318.46" y1="211.22" x2="321.06" y2="211.22" stroke="#a8283a" stroke-width="0.8"/>
<line x1="318.46" y1="214.74" x2="321.06" y2="214.74" stroke="#a8283a" stroke-width="0.8"/>
<circle cx="319.76" cy="212.98" r="1.2" fill="#a8283a"/>
<polyline points="194.00,156.01 204.48,154.26 214.96,156.01 225.44,153.82 235.92,174.93 246.40,174.05 256.88,184.17 267.36,170.97 277.84,175.37 288.32,176.69 298.80,199.30 309.28,198.24 319.76,198.68" fill="none" stroke="#33408e" stroke-width="0.9"/>
<rect x="192.80" y="154.81" width="2.40" height="2.40" fill="#262f78"/>
<line x1="204.48" y1="156.67" x2="204.48" y2="151.84" stroke="#262f78" stroke-width="0.85"/>
<line x1="203.18" y1="151.84" x2="205.78" y2="151.84" stroke="#262f78" stroke-width="0.8"/>
<line x1="203.18" y1="156.67" x2="205.78" y2="156.67" stroke="#262f78" stroke-width="0.8"/>
<rect x="203.28" y="153.06" width="2.40" height="2.40" fill="#262f78"/>
<line x1="214.96" y1="160.41" x2="214.96" y2="151.62" stroke="#262f78" stroke-width="0.85"/>
<line x1="213.66" y1="151.62" x2="216.26" y2="151.62" stroke="#262f78" stroke-width="0.8"/>
<line x1="213.66" y1="160.41" x2="216.26" y2="160.41" stroke="#262f78" stroke-width="0.8"/>
<rect x="213.76" y="154.81" width="2.40" height="2.40" fill="#262f78"/>
<line x1="225.44" y1="158.21" x2="225.44" y2="149.42" stroke="#262f78" stroke-width="0.85"/>
<line x1="224.14" y1="149.42" x2="226.74" y2="149.42" stroke="#262f78" stroke-width="0.8"/>
<line x1="224.14" y1="158.21" x2="226.74" y2="158.21" stroke="#262f78" stroke-width="0.8"/>
<rect x="224.24" y="152.62" width="2.40" height="2.40" fill="#262f78"/>
<line x1="235.92" y1="177.57" x2="235.92" y2="172.29" stroke="#262f78" stroke-width="0.85"/>
<line x1="234.62" y1="172.29" x2="237.22" y2="172.29" stroke="#262f78" stroke-width="0.8"/>
<line x1="234.62" y1="177.57" x2="237.22" y2="177.57" stroke="#262f78" stroke-width="0.8"/>
<rect x="234.72" y="173.73" width="2.40" height="2.40" fill="#262f78"/>
<line x1="246.40" y1="176.25" x2="246.40" y2="171.85" stroke="#262f78" stroke-width="0.85"/>
<line x1="245.10" y1="171.85" x2="247.70" y2="171.85" stroke="#262f78" stroke-width="0.8"/>
<line x1="245.10" y1="176.25" x2="247.70" y2="176.25" stroke="#262f78" stroke-width="0.8"/>
<rect x="245.20" y="172.85" width="2.40" height="2.40" fill="#262f78"/>
<line x1="256.88" y1="187.69" x2="256.88" y2="180.65" stroke="#262f78" stroke-width="0.85"/>
<line x1="255.58" y1="180.65" x2="258.18" y2="180.65" stroke="#262f78" stroke-width="0.8"/>
<line x1="255.58" y1="187.69" x2="258.18" y2="187.69" stroke="#262f78" stroke-width="0.8"/>
<rect x="255.68" y="182.97" width="2.40" height="2.40" fill="#262f78"/>
<line x1="267.36" y1="173.17" x2="267.36" y2="168.77" stroke="#262f78" stroke-width="0.85"/>
<line x1="266.06" y1="168.77" x2="268.66" y2="168.77" stroke="#262f78" stroke-width="0.8"/>
<line x1="266.06" y1="173.17" x2="268.66" y2="173.17" stroke="#262f78" stroke-width="0.8"/>
<rect x="266.16" y="169.77" width="2.40" height="2.40" fill="#262f78"/>
<line x1="277.84" y1="177.57" x2="277.84" y2="173.17" stroke="#262f78" stroke-width="0.85"/>
<line x1="276.54" y1="173.17" x2="279.14" y2="173.17" stroke="#262f78" stroke-width="0.8"/>
<line x1="276.54" y1="177.57" x2="279.14" y2="177.57" stroke="#262f78" stroke-width="0.8"/>
<rect x="276.64" y="174.17" width="2.40" height="2.40" fill="#262f78"/>
<line x1="288.32" y1="178.89" x2="288.32" y2="174.49" stroke="#262f78" stroke-width="0.85"/>
<line x1="287.02" y1="174.49" x2="289.62" y2="174.49" stroke="#262f78" stroke-width="0.8"/>
<line x1="287.02" y1="178.89" x2="289.62" y2="178.89" stroke="#262f78" stroke-width="0.8"/>
<rect x="287.12" y="175.49" width="2.40" height="2.40" fill="#262f78"/>
<line x1="298.80" y1="200.62" x2="298.80" y2="197.98" stroke="#262f78" stroke-width="0.85"/>
<line x1="297.50" y1="197.98" x2="300.10" y2="197.98" stroke="#262f78" stroke-width="0.8"/>
<line x1="297.50" y1="200.62" x2="300.10" y2="200.62" stroke="#262f78" stroke-width="0.8"/>
<rect x="297.60" y="198.10" width="2.40" height="2.40" fill="#262f78"/>
<line x1="309.28" y1="199.56" x2="309.28" y2="196.92" stroke="#262f78" stroke-width="0.85"/>
<line x1="307.98" y1="196.92" x2="310.58" y2="196.92" stroke="#262f78" stroke-width="0.8"/>
<line x1="307.98" y1="199.56" x2="310.58" y2="199.56" stroke="#262f78" stroke-width="0.8"/>
<rect x="308.08" y="197.04" width="2.40" height="2.40" fill="#262f78"/>
<rect x="318.56" y="197.48" width="2.40" height="2.40" fill="#262f78"/>
<line x1="297.20" y1="155.00" x2="303.10" y2="155.00" stroke="#6a2028" stroke-width="0.7"/>
<ellipse cx="300.30" cy="155.00" rx="1.3" ry="1.0" fill="#6a2028"/>
<text x="304.30" y="157.36" font-size="6.6" text-anchor="start" fill="#cc5868" stroke="#cc5868" stroke-width="0.1" textLength="38.10" lengthAdjust="spacingAndGlyphs">CD11c control</text>
<line x1="297.20" y1="163.00" x2="303.10" y2="163.00" stroke="#1c2240" stroke-width="0.7"/>
<ellipse cx="300.30" cy="163.00" rx="1.3" ry="1.0" fill="#1c2240"/>
<text x="304.30" y="165.36" font-size="6.6" text-anchor="start" fill="#424878" stroke="#424878" stroke-width="0.1" textLength="31.20" lengthAdjust="spacingAndGlyphs">CD11c AAT</text>
<line x1="363.50" y1="149.30" x2="363.50" y2="213.20" stroke="#333" stroke-width="0.8"/>
<line x1="363.50" y1="213.20" x2="520.00" y2="213.20" stroke="#333" stroke-width="0.8"/>
<line x1="361.70" y1="213.20" x2="363.50" y2="213.20" stroke="#333" stroke-width="0.7"/>
<text x="360.90" y="215.19" font-size="5.0" text-anchor="end" fill="#333" stroke="#333" stroke-width="0.16" textLength="2.64" lengthAdjust="spacingAndGlyphs">0</text>
<line x1="361.70" y1="191.90" x2="363.50" y2="191.90" stroke="#333" stroke-width="0.7"/>
<text x="360.90" y="193.89" font-size="5.0" text-anchor="end" fill="#333" stroke="#333" stroke-width="0.16" textLength="5.28" lengthAdjust="spacingAndGlyphs">10</text>
<line x1="361.70" y1="170.60" x2="363.50" y2="170.60" stroke="#333" stroke-width="0.7"/>
<text x="360.90" y="172.59" font-size="5.0" text-anchor="end" fill="#333" stroke="#333" stroke-width="0.16" textLength="5.28" lengthAdjust="spacingAndGlyphs">20</text>
<line x1="361.70" y1="149.30" x2="363.50" y2="149.30" stroke="#333" stroke-width="0.7"/>
<text x="360.90" y="151.29" font-size="5.0" text-anchor="end" fill="#333" stroke="#333" stroke-width="0.16" textLength="5.28" lengthAdjust="spacingAndGlyphs">30</text>
<text x="349.60" y="179.50" font-size="6.0" text-anchor="middle" fill="#222" stroke="#222" stroke-width="0.15" textLength="48.70" lengthAdjust="spacingAndGlyphs" transform="rotate(-90 349.60 179.50)">ECAR (mpH/min)</text>
<text x="418.20" y="139.94" font-size="8.2" text-anchor="middle" fill="#111" stroke="#111" stroke-width="0.2" textLength="67.60" lengthAdjust="spacingAndGlyphs">Lactate Production</text>
<line x1="373.95" y1="183.38" x2="373.95" y2="179.12" stroke="#222" stroke-width="0.8"/>
<line x1="371.85" y1="179.12" x2="376.05" y2="179.12" stroke="#222" stroke-width="1.0"/>
<rect x="370.20" y="183.38" width="7.90" height="29.82" fill="#d8222e" stroke="#1c1416" stroke-width="0.8"/>
<line x1="385.75" y1="202.12" x2="385.75" y2="198.29" stroke="#222" stroke-width="0.8"/>
<line x1="383.65" y1="198.29" x2="387.85" y2="198.29" stroke="#222" stroke-width="1.0"/>
<rect x="382.00" y="202.12" width="7.90" height="11.08" fill="#343fa2" stroke="#1c1416" stroke-width="0.8"/>
<line x1="379.85" y1="213.20" x2="379.85" y2="214.80" stroke="#333" stroke-width="0.7"/>
<text x="379.85" y="222.96" font-size="6.6" text-anchor="middle" fill="#111" stroke="#111" stroke-width="0.1" textLength="15.89" lengthAdjust="spacingAndGlyphs">CD4+</text>
<line x1="373.60" y1="170.60" x2="387.80" y2="170.60" stroke="#222" stroke-width="1.2"/>
<line x1="373.60" y1="168.30" x2="373.60" y2="172.90" stroke="#222" stroke-width="1.1"/>
<line x1="387.80" y1="168.30" x2="387.80" y2="172.90" stroke="#222" stroke-width="1.1"/>
<text x="380.70" y="166.45" font-size="4.9" text-anchor="middle" fill="#333" stroke="#333" stroke-width="0.12" textLength="18.05" lengthAdjust="spacingAndGlyphs"><tspan font-style="italic">p</tspan> = 0.001</text>
<line x1="405.05" y1="176.99" x2="405.05" y2="172.73" stroke="#222" stroke-width="0.8"/>
<line x1="402.95" y1="172.73" x2="407.15" y2="172.73" stroke="#222" stroke-width="1.0"/>
<rect x="401.30" y="176.99" width="7.90" height="36.21" fill="#d8222e" stroke="#1c1416" stroke-width="0.8"/>
<line x1="416.85" y1="187.64" x2="416.85" y2="183.38" stroke="#222" stroke-width="0.8"/>
<line x1="414.75" y1="183.38" x2="418.95" y2="183.38" stroke="#222" stroke-width="1.0"/>
<rect x="413.10" y="187.64" width="7.90" height="25.56" fill="#343fa2" stroke="#1c1416" stroke-width="0.8"/>
<line x1="410.95" y1="213.20" x2="410.95" y2="214.80" stroke="#333" stroke-width="0.7"/>
<text x="410.95" y="222.96" font-size="6.6" text-anchor="middle" fill="#111" stroke="#111" stroke-width="0.1" textLength="15.89" lengthAdjust="spacingAndGlyphs">CD8+</text>
<line x1="404.60" y1="168.50" x2="418.80" y2="168.50" stroke="#222" stroke-width="1.2"/>
<line x1="404.60" y1="166.20" x2="404.60" y2="170.80" stroke="#222" stroke-width="1.1"/>
<line x1="418.80" y1="166.20" x2="418.80" y2="170.80" stroke="#222" stroke-width="1.1"/>
<text x="411.70" y="164.35" font-size="4.9" text-anchor="middle" fill="#333" stroke="#333" stroke-width="0.12" textLength="15.66" lengthAdjust="spacingAndGlyphs"><tspan font-style="italic">p</tspan> = 0.02</text>
<line x1="436.15" y1="195.95" x2="436.15" y2="193.60" stroke="#222" stroke-width="0.8"/>
<line x1="434.05" y1="193.60" x2="438.25" y2="193.60" stroke="#222" stroke-width="1.0"/>
<rect x="432.40" y="195.95" width="7.90" height="17.25" fill="#d8222e" stroke="#1c1416" stroke-width="0.8"/>
<line x1="447.95" y1="174.86" x2="447.95" y2="164.21" stroke="#222" stroke-width="0.8"/>
<line x1="445.85" y1="164.21" x2="450.05" y2="164.21" stroke="#222" stroke-width="1.0"/>
<rect x="444.20" y="174.86" width="7.90" height="38.34" fill="#343fa2" stroke="#1c1416" stroke-width="0.8"/>
<line x1="442.05" y1="213.20" x2="442.05" y2="214.80" stroke="#333" stroke-width="0.7"/>
<text x="442.05" y="222.96" font-size="6.6" text-anchor="middle" fill="#111" stroke="#111" stroke-width="0.1" textLength="20.68" lengthAdjust="spacingAndGlyphs">NK+1.1</text>
<line x1="434.10" y1="159.40" x2="448.80" y2="159.40" stroke="#222" stroke-width="1.2"/>
<line x1="434.10" y1="157.10" x2="434.10" y2="161.70" stroke="#222" stroke-width="1.1"/>
<line x1="448.80" y1="157.10" x2="448.80" y2="161.70" stroke="#222" stroke-width="1.1"/>
<text x="441.45" y="155.25" font-size="4.9" text-anchor="middle" fill="#333" stroke="#333" stroke-width="0.12" textLength="20.44" lengthAdjust="spacingAndGlyphs"><tspan font-style="italic">p</tspan> = 0.0001</text>
<line x1="467.65" y1="185.51" x2="467.65" y2="176.99" stroke="#222" stroke-width="0.8"/>
<line x1="465.55" y1="176.99" x2="469.75" y2="176.99" stroke="#222" stroke-width="1.0"/>
<rect x="463.90" y="185.51" width="7.90" height="27.69" fill="#d8222e" stroke="#1c1416" stroke-width="0.8"/>
<line x1="479.35" y1="172.73" x2="479.35" y2="168.47" stroke="#222" stroke-width="0.8"/>
<line x1="477.25" y1="168.47" x2="481.45" y2="168.47" stroke="#222" stroke-width="1.0"/>
<rect x="475.60" y="172.73" width="7.90" height="40.47" fill="#343fa2" stroke="#1c1416" stroke-width="0.8"/>
<line x1="473.50" y1="213.20" x2="473.50" y2="214.80" stroke="#333" stroke-width="0.7"/>
<text x="473.50" y="222.96" font-size="6.6" text-anchor="middle" fill="#111" stroke="#111" stroke-width="0.1" textLength="12.42" lengthAdjust="spacingAndGlyphs">Treg</text>
<line x1="465.20" y1="159.40" x2="479.80" y2="159.40" stroke="#222" stroke-width="1.2"/>
<line x1="465.20" y1="157.10" x2="465.20" y2="161.70" stroke="#222" stroke-width="1.1"/>
<line x1="479.80" y1="157.10" x2="479.80" y2="161.70" stroke="#222" stroke-width="1.1"/>
<text x="472.50" y="155.25" font-size="4.9" text-anchor="middle" fill="#333" stroke="#333" stroke-width="0.12" textLength="15.66" lengthAdjust="spacingAndGlyphs"><tspan font-style="italic">p</tspan> = 0.05</text>
<line x1="498.65" y1="199.99" x2="498.65" y2="195.95" stroke="#222" stroke-width="0.8"/>
<line x1="496.55" y1="195.95" x2="500.75" y2="195.95" stroke="#222" stroke-width="1.0"/>
<rect x="494.90" y="199.99" width="7.90" height="13.21" fill="#d8222e" stroke="#1c1416" stroke-width="0.8"/>
<line x1="510.25" y1="179.12" x2="510.25" y2="162.08" stroke="#222" stroke-width="0.8"/>
<line x1="508.15" y1="162.08" x2="512.35" y2="162.08" stroke="#222" stroke-width="1.0"/>
<rect x="506.50" y="179.12" width="7.90" height="34.08" fill="#343fa2" stroke="#1c1416" stroke-width="0.8"/>
<line x1="504.45" y1="213.20" x2="504.45" y2="214.80" stroke="#333" stroke-width="0.7"/>
<text x="504.45" y="222.96" font-size="6.6" text-anchor="middle" fill="#111" stroke="#111" stroke-width="0.1" textLength="18.34" lengthAdjust="spacingAndGlyphs">CD11c</text>
<line x1="495.90" y1="159.40" x2="510.60" y2="159.40" stroke="#222" stroke-width="1.2"/>
<line x1="495.90" y1="157.10" x2="495.90" y2="161.70" stroke="#222" stroke-width="1.1"/>
<line x1="510.60" y1="157.10" x2="510.60" y2="161.70" stroke="#222" stroke-width="1.1"/>
<text x="503.25" y="155.25" font-size="4.9" text-anchor="middle" fill="#333" stroke="#333" stroke-width="0.12" textLength="20.44" lengthAdjust="spacingAndGlyphs"><tspan font-style="italic">p</tspan> = 0.0001</text>
<rect x="482.45" y="130.10" width="5.90" height="3.40" fill="#9a1e28" stroke="#1a1a1a" stroke-width="0.9"/>
<text x="491.90" y="134.06" font-size="6.3" text-anchor="start" fill="#cc4c5c" stroke="#cc4c5c" stroke-width="0.08" textLength="20.20" lengthAdjust="spacingAndGlyphs">Control</text>
<rect x="482.45" y="138.40" width="5.90" height="3.40" fill="#232a6a" stroke="#1a1a1a" stroke-width="0.9"/>
<text x="491.90" y="142.36" font-size="6.3" text-anchor="start" fill="#4a4a80" stroke="#4a4a80" stroke-width="0.08" textLength="10.80" lengthAdjust="spacingAndGlyphs">AAT</text>
<line x1="22.00" y1="267.00" x2="22.00" y2="334.40" stroke="#333" stroke-width="0.8"/>
<line x1="22.00" y1="334.40" x2="197.00" y2="334.40" stroke="#333" stroke-width="0.8"/>
<line x1="20.20" y1="334.40" x2="22.00" y2="334.40" stroke="#333" stroke-width="0.7"/>
<text x="19.40" y="336.39" font-size="5.0" text-anchor="end" fill="#333" stroke="#333" stroke-width="0.16" textLength="2.64" lengthAdjust="spacingAndGlyphs">0</text>
<line x1="20.20" y1="312.59" x2="22.00" y2="312.59" stroke="#333" stroke-width="0.7"/>
<text x="19.40" y="314.58" font-size="5.0" text-anchor="end" fill="#333" stroke="#333" stroke-width="0.16" textLength="5.28" lengthAdjust="spacingAndGlyphs">20</text>
<line x1="20.20" y1="290.78" x2="22.00" y2="290.78" stroke="#333" stroke-width="0.7"/>
<text x="19.40" y="292.77" font-size="5.0" text-anchor="end" fill="#333" stroke="#333" stroke-width="0.16" textLength="5.28" lengthAdjust="spacingAndGlyphs">40</text>
<line x1="20.20" y1="268.96" x2="22.00" y2="268.96" stroke="#333" stroke-width="0.7"/>
<text x="19.40" y="270.95" font-size="5.0" text-anchor="end" fill="#333" stroke="#333" stroke-width="0.16" textLength="5.28" lengthAdjust="spacingAndGlyphs">60</text>
<text x="10.40" y="301.00" font-size="6.0" text-anchor="middle" fill="#222" stroke="#222" stroke-width="0.15" textLength="56.30" lengthAdjust="spacingAndGlyphs" transform="rotate(-90 10.40 301.00)">FACS % Viable Cells</text>
<text x="112.40" y="255.10" font-size="8.1" text-anchor="middle" fill="#111" stroke="#111" stroke-width="0.2" textLength="128.80" lengthAdjust="spacingAndGlyphs">MitoSox (Mitochondrial Superoxide)</text>
<line x1="31.25" y1="291.54" x2="31.25" y2="286.41" stroke="#222" stroke-width="0.8"/>
<line x1="29.15" y1="286.41" x2="33.35" y2="286.41" stroke="#222" stroke-width="1.0"/>
<rect x="27.70" y="291.54" width="7.50" height="42.86" fill="#d8222e" stroke="#1c1416" stroke-width="0.8"/>
<line x1="41.75" y1="324.58" x2="41.75" y2="318.04" stroke="#222" stroke-width="0.8"/>
<line x1="39.65" y1="318.04" x2="43.85" y2="318.04" stroke="#222" stroke-width="1.0"/>
<rect x="38.20" y="324.58" width="7.50" height="9.82" fill="#343fa2" stroke="#1c1416" stroke-width="0.8"/>
<line x1="36.50" y1="334.40" x2="36.50" y2="336.00" stroke="#333" stroke-width="0.7"/>
<text x="36.50" y="343.26" font-size="6.6" text-anchor="middle" fill="#111" stroke="#111" stroke-width="0.1" textLength="15.89" lengthAdjust="spacingAndGlyphs">CD3+</text>
<line x1="32.10" y1="271.00" x2="43.40" y2="271.00" stroke="#222" stroke-width="1.2"/>
<line x1="32.10" y1="268.70" x2="32.10" y2="273.30" stroke="#222" stroke-width="1.1"/>
<line x1="43.40" y1="268.70" x2="43.40" y2="273.30" stroke="#222" stroke-width="1.1"/>
<text x="37.75" y="266.85" font-size="4.9" text-anchor="middle" fill="#333" stroke="#333" stroke-width="0.12" textLength="18.05" lengthAdjust="spacingAndGlyphs"><tspan font-style="italic">p</tspan> = 0.001</text>
<line x1="60.25" y1="295.14" x2="60.25" y2="278.78" stroke="#222" stroke-width="0.8"/>
<line x1="58.15" y1="278.78" x2="62.35" y2="278.78" stroke="#222" stroke-width="1.0"/>
<rect x="56.70" y="295.14" width="7.50" height="39.26" fill="#d8222e" stroke="#1c1416" stroke-width="0.8"/>
<line x1="70.75" y1="321.64" x2="70.75" y2="316.95" stroke="#222" stroke-width="0.8"/>
<line x1="68.65" y1="316.95" x2="72.85" y2="316.95" stroke="#222" stroke-width="1.0"/>
<rect x="67.20" y="321.64" width="7.50" height="12.76" fill="#343fa2" stroke="#1c1416" stroke-width="0.8"/>
<line x1="65.50" y1="334.40" x2="65.50" y2="336.00" stroke="#333" stroke-width="0.7"/>
<text x="65.50" y="343.26" font-size="6.6" text-anchor="middle" fill="#111" stroke="#111" stroke-width="0.1" textLength="15.89" lengthAdjust="spacingAndGlyphs">CD4+</text>
<line x1="61.60" y1="274.50" x2="73.30" y2="274.50" stroke="#222" stroke-width="1.2"/>
<line x1="61.60" y1="272.20" x2="61.60" y2="276.80" stroke="#222" stroke-width="1.1"/>
<line x1="73.30" y1="272.20" x2="73.30" y2="276.80" stroke="#222" stroke-width="1.1"/>
<text x="67.45" y="270.35" font-size="4.9" text-anchor="middle" fill="#333" stroke="#333" stroke-width="0.12" textLength="15.66" lengthAdjust="spacingAndGlyphs"><tspan font-style="italic">p</tspan> = 0.03</text>
<line x1="89.35" y1="292.63" x2="89.35" y2="287.18" stroke="#222" stroke-width="0.8"/>
<line x1="87.25" y1="287.18" x2="91.45" y2="287.18" stroke="#222" stroke-width="1.0"/>
<rect x="85.80" y="292.63" width="7.50" height="41.77" fill="#d8222e" stroke="#1c1416" stroke-width="0.8"/>
<line x1="100.05" y1="321.31" x2="100.05" y2="313.68" stroke="#222" stroke-width="0.8"/>
<line x1="97.95" y1="313.68" x2="102.15" y2="313.68" stroke="#222" stroke-width="1.0"/>
<rect x="96.50" y="321.31" width="7.50" height="13.09" fill="#343fa2" stroke="#1c1416" stroke-width="0.8"/>
<line x1="94.70" y1="334.40" x2="94.70" y2="336.00" stroke="#333" stroke-width="0.7"/>
<text x="94.70" y="343.26" font-size="6.6" text-anchor="middle" fill="#111" stroke="#111" stroke-width="0.1" textLength="15.89" lengthAdjust="spacingAndGlyphs">CD8+</text>
<line x1="88.80" y1="283.10" x2="101.60" y2="283.10" stroke="#222" stroke-width="1.2"/>
<line x1="88.80" y1="280.80" x2="88.80" y2="285.40" stroke="#222" stroke-width="1.1"/>
<line x1="101.60" y1="280.80" x2="101.60" y2="285.40" stroke="#222" stroke-width="1.1"/>
<text x="95.20" y="278.95" font-size="4.9" text-anchor="middle" fill="#333" stroke="#333" stroke-width="0.12" textLength="15.66" lengthAdjust="spacingAndGlyphs"><tspan font-style="italic">p</tspan> = 0.02</text>
<line x1="118.35" y1="332.22" x2="118.35" y2="330.04" stroke="#222" stroke-width="0.8"/>
<line x1="116.25" y1="330.04" x2="120.45" y2="330.04" stroke="#222" stroke-width="1.0"/>
<rect x="114.80" y="332.22" width="7.50" height="2.18" fill="#d8222e" stroke="#1c1416" stroke-width="0.8"/>
<line x1="128.85" y1="321.31" x2="128.85" y2="315.86" stroke="#222" stroke-width="0.8"/>
<line x1="126.75" y1="315.86" x2="130.95" y2="315.86" stroke="#222" stroke-width="1.0"/>
<rect x="125.30" y="321.31" width="7.50" height="13.09" fill="#343fa2" stroke="#1c1416" stroke-width="0.8"/>
<line x1="123.60" y1="334.40" x2="123.60" y2="336.00" stroke="#333" stroke-width="0.7"/>
<text x="123.60" y="343.26" font-size="6.6" text-anchor="middle" fill="#111" stroke="#111" stroke-width="0.1" textLength="20.68" lengthAdjust="spacingAndGlyphs">NK+1.1</text>
<line x1="117.10" y1="307.10" x2="129.30" y2="307.10" stroke="#222" stroke-width="1.2"/>
<line x1="117.10" y1="304.80" x2="117.10" y2="309.40" stroke="#222" stroke-width="1.1"/>
<line x1="129.30" y1="304.80" x2="129.30" y2="309.40" stroke="#222" stroke-width="1.1"/>
<text x="123.20" y="302.95" font-size="4.9" text-anchor="middle" fill="#333" stroke="#333" stroke-width="0.12" textLength="20.44" lengthAdjust="spacingAndGlyphs"><tspan font-style="italic">p</tspan> = 0.0002</text>
<line x1="147.85" y1="327.86" x2="147.85" y2="319.13" stroke="#222" stroke-width="0.8"/>
<line x1="145.75" y1="319.13" x2="149.95" y2="319.13" stroke="#222" stroke-width="1.0"/>
<rect x="144.30" y="327.86" width="7.50" height="6.54" fill="#d8222e" stroke="#1c1416" stroke-width="0.8"/>
<line x1="158.95" y1="314.77" x2="158.95" y2="309.32" stroke="#222" stroke-width="0.8"/>
<line x1="156.85" y1="309.32" x2="161.05" y2="309.32" stroke="#222" stroke-width="1.0"/>
<rect x="155.40" y="314.77" width="7.50" height="19.63" fill="#343fa2" stroke="#1c1416" stroke-width="0.8"/>
<line x1="153.40" y1="334.40" x2="153.40" y2="336.00" stroke="#333" stroke-width="0.7"/>
<text x="153.40" y="343.26" font-size="6.6" text-anchor="middle" fill="#111" stroke="#111" stroke-width="0.1" textLength="12.42" lengthAdjust="spacingAndGlyphs">Treg</text>
<line x1="147.00" y1="301.40" x2="158.80" y2="301.40" stroke="#222" stroke-width="1.2"/>
<line x1="147.00" y1="299.10" x2="147.00" y2="303.70" stroke="#222" stroke-width="1.1"/>
<line x1="158.80" y1="299.10" x2="158.80" y2="303.70" stroke="#222" stroke-width="1.1"/>
<text x="152.90" y="297.25" font-size="4.9" text-anchor="middle" fill="#333" stroke="#333" stroke-width="0.12" textLength="18.05" lengthAdjust="spacingAndGlyphs"><tspan font-style="italic">p</tspan> = 0.047</text>
<line x1="177.05" y1="325.68" x2="177.05" y2="316.95" stroke="#222" stroke-width="0.8"/>
<line x1="174.95" y1="316.95" x2="179.15" y2="316.95" stroke="#222" stroke-width="1.0"/>
<rect x="173.50" y="325.68" width="7.50" height="8.72" fill="#d8222e" stroke="#1c1416" stroke-width="0.8"/>
<line x1="187.85" y1="301.90" x2="187.85" y2="298.41" stroke="#222" stroke-width="0.8"/>
<line x1="185.75" y1="298.41" x2="189.95" y2="298.41" stroke="#222" stroke-width="1.0"/>
<rect x="184.30" y="301.90" width="7.50" height="32.50" fill="#343fa2" stroke="#1c1416" stroke-width="0.8"/>
<line x1="182.45" y1="334.40" x2="182.45" y2="336.00" stroke="#333" stroke-width="0.7"/>
<text x="182.45" y="343.26" font-size="6.6" text-anchor="middle" fill="#111" stroke="#111" stroke-width="0.1" textLength="18.34" lengthAdjust="spacingAndGlyphs">CD11c</text>
<line x1="176.20" y1="294.30" x2="187.80" y2="294.30" stroke="#222" stroke-width="1.2"/>
<line x1="176.20" y1="292.00" x2="176.20" y2="296.60" stroke="#222" stroke-width="1.1"/>
<line x1="187.80" y1="292.00" x2="187.80" y2="296.60" stroke="#222" stroke-width="1.1"/>
<text x="182.00" y="290.15" font-size="4.9" text-anchor="middle" fill="#333" stroke="#333" stroke-width="0.12" textLength="20.44" lengthAdjust="spacingAndGlyphs"><tspan font-style="italic">p</tspan> = 0.0007</text>
<rect x="196.95" y="274.20" width="7.50" height="3.40" fill="#9a1e28" stroke="#1a1a1a" stroke-width="0.9"/>
<text x="207.80" y="278.16" font-size="6.3" text-anchor="start" fill="#cc4c5c" stroke="#cc4c5c" stroke-width="0.08" textLength="19.90" lengthAdjust="spacingAndGlyphs">Control</text>
<rect x="196.95" y="281.90" width="7.50" height="3.40" fill="#232a6a" stroke="#1a1a1a" stroke-width="0.9"/>
<text x="207.80" y="285.86" font-size="6.3" text-anchor="start" fill="#4a4a80" stroke="#4a4a80" stroke-width="0.08" textLength="10.90" lengthAdjust="spacingAndGlyphs">AAT</text>
<line x1="282.60" y1="265.00" x2="282.60" y2="334.50" stroke="#333" stroke-width="0.8"/>
<line x1="282.60" y1="334.50" x2="455.50" y2="334.50" stroke="#333" stroke-width="0.8"/>
<line x1="280.80" y1="334.50" x2="282.60" y2="334.50" stroke="#333" stroke-width="0.7"/>
<text x="280.00" y="336.49" font-size="5.0" text-anchor="end" fill="#333" stroke="#333" stroke-width="0.16" textLength="2.64" lengthAdjust="spacingAndGlyphs">0</text>
<line x1="280.80" y1="320.60" x2="282.60" y2="320.60" stroke="#333" stroke-width="0.7"/>
<text x="280.00" y="322.59" font-size="5.0" text-anchor="end" fill="#333" stroke="#333" stroke-width="0.16" textLength="5.28" lengthAdjust="spacingAndGlyphs">20</text>
<line x1="280.80" y1="306.70" x2="282.60" y2="306.70" stroke="#333" stroke-width="0.7"/>
<text x="280.00" y="308.69" font-size="5.0" text-anchor="end" fill="#333" stroke="#333" stroke-width="0.16" textLength="5.28" lengthAdjust="spacingAndGlyphs">40</text>
<line x1="280.80" y1="292.80" x2="282.60" y2="292.80" stroke="#333" stroke-width="0.7"/>
<text x="280.00" y="294.79" font-size="5.0" text-anchor="end" fill="#333" stroke="#333" stroke-width="0.16" textLength="5.28" lengthAdjust="spacingAndGlyphs">60</text>
<line x1="280.80" y1="278.90" x2="282.60" y2="278.90" stroke="#333" stroke-width="0.7"/>
<text x="280.00" y="280.89" font-size="5.0" text-anchor="end" fill="#333" stroke="#333" stroke-width="0.16" textLength="5.28" lengthAdjust="spacingAndGlyphs">80</text>
<line x1="280.80" y1="265.00" x2="282.60" y2="265.00" stroke="#333" stroke-width="0.7"/>
<text x="280.00" y="266.99" font-size="5.0" text-anchor="end" fill="#333" stroke="#333" stroke-width="0.16" textLength="7.92" lengthAdjust="spacingAndGlyphs">100</text>
<text x="268.40" y="300.60" font-size="6.0" text-anchor="middle" fill="#222" stroke="#222" stroke-width="0.15" textLength="57.00" lengthAdjust="spacingAndGlyphs" transform="rotate(-90 268.40 300.60)">FACS % Viable Cells</text>
<text x="373.70" y="258.42" font-size="9.0" text-anchor="middle" fill="#111" stroke="#111" stroke-width="0.2" textLength="54.40" lengthAdjust="spacingAndGlyphs">TMTR (&#916;&#936;m)</text>
<line x1="291.65" y1="285.43" x2="291.65" y2="282.51" stroke="#222" stroke-width="0.8"/>
<line x1="289.55" y1="282.51" x2="293.75" y2="282.51" stroke="#222" stroke-width="1.0"/>
<rect x="287.90" y="285.43" width="7.90" height="49.07" fill="#d8222e" stroke="#1c1416" stroke-width="0.8"/>
<line x1="302.85" y1="294.19" x2="302.85" y2="291.06" stroke="#222" stroke-width="0.8"/>
<line x1="300.75" y1="291.06" x2="304.95" y2="291.06" stroke="#222" stroke-width="1.0"/>
<rect x="299.10" y="294.19" width="7.90" height="40.31" fill="#343fa2" stroke="#1c1416" stroke-width="0.8"/>
<line x1="297.25" y1="334.50" x2="297.25" y2="336.10" stroke="#333" stroke-width="0.7"/>
<text x="297.25" y="343.36" font-size="6.6" text-anchor="middle" fill="#111" stroke="#111" stroke-width="0.1" textLength="15.89" lengthAdjust="spacingAndGlyphs">CD3+</text>
<line x1="291.30" y1="273.10" x2="303.50" y2="273.10" stroke="#222" stroke-width="1.2"/>
<line x1="291.30" y1="270.80" x2="291.30" y2="275.40" stroke="#222" stroke-width="1.1"/>
<line x1="303.50" y1="270.80" x2="303.50" y2="275.40" stroke="#222" stroke-width="1.1"/>
<text x="297.40" y="268.95" font-size="4.9" text-anchor="middle" fill="#333" stroke="#333" stroke-width="0.12" textLength="18.05" lengthAdjust="spacingAndGlyphs"><tspan font-style="italic">p</tspan> = 0.006</text>
<line x1="321.15" y1="305.31" x2="321.15" y2="301.83" stroke="#222" stroke-width="0.8"/>
<line x1="319.05" y1="301.83" x2="323.25" y2="301.83" stroke="#222" stroke-width="1.0"/>
<rect x="317.40" y="305.31" width="7.90" height="29.19" fill="#d8222e" stroke="#1c1416" stroke-width="0.8"/>
<line x1="331.85" y1="310.38" x2="331.85" y2="307.39" stroke="#222" stroke-width="0.8"/>
<line x1="329.75" y1="307.39" x2="333.95" y2="307.39" stroke="#222" stroke-width="1.0"/>
<rect x="328.10" y="310.38" width="7.90" height="24.12" fill="#343fa2" stroke="#1c1416" stroke-width="0.8"/>
<line x1="326.50" y1="334.50" x2="326.50" y2="336.10" stroke="#333" stroke-width="0.7"/>
<text x="326.50" y="343.36" font-size="6.6" text-anchor="middle" fill="#111" stroke="#111" stroke-width="0.1" textLength="15.89" lengthAdjust="spacingAndGlyphs">CD4+</text>
<line x1="319.10" y1="288.80" x2="331.90" y2="288.80" stroke="#222" stroke-width="1.2"/>
<line x1="319.10" y1="286.50" x2="319.10" y2="291.10" stroke="#222" stroke-width="1.1"/>
<line x1="331.90" y1="286.50" x2="331.90" y2="291.10" stroke="#222" stroke-width="1.1"/>
<text x="325.50" y="284.65" font-size="4.9" text-anchor="middle" fill="#333" stroke="#333" stroke-width="0.12" textLength="15.66" lengthAdjust="spacingAndGlyphs"><tspan font-style="italic">p</tspan> = 0.03</text>
<line x1="349.85" y1="305.31" x2="349.85" y2="301.14" stroke="#222" stroke-width="0.8"/>
<line x1="347.75" y1="301.14" x2="351.95" y2="301.14" stroke="#222" stroke-width="1.0"/>
<rect x="346.10" y="305.31" width="7.90" height="29.19" fill="#d8222e" stroke="#1c1416" stroke-width="0.8"/>
<line x1="361.05" y1="314.35" x2="361.05" y2="312.95" stroke="#222" stroke-width="0.8"/>
<line x1="358.95" y1="312.95" x2="363.15" y2="312.95" stroke="#222" stroke-width="1.0"/>
<rect x="357.30" y="314.35" width="7.90" height="20.15" fill="#343fa2" stroke="#1c1416" stroke-width="0.8"/>
<line x1="355.45" y1="334.50" x2="355.45" y2="336.10" stroke="#333" stroke-width="0.7"/>
<text x="355.45" y="343.36" font-size="6.6" text-anchor="middle" fill="#111" stroke="#111" stroke-width="0.1" textLength="15.89" lengthAdjust="spacingAndGlyphs">CD8+</text>
<line x1="349.30" y1="295.70" x2="361.90" y2="295.70" stroke="#222" stroke-width="1.2"/>
<line x1="349.30" y1="293.40" x2="349.30" y2="298.00" stroke="#222" stroke-width="1.1"/>
<line x1="361.90" y1="293.40" x2="361.90" y2="298.00" stroke="#222" stroke-width="1.1"/>
<text x="355.60" y="291.55" font-size="4.9" text-anchor="middle" fill="#333" stroke="#333" stroke-width="0.12" textLength="15.66" lengthAdjust="spacingAndGlyphs"><tspan font-style="italic">p</tspan> = 0.02</text>
<line x1="378.35" y1="312.95" x2="378.35" y2="307.74" stroke="#222" stroke-width="0.8"/>
<line x1="376.25" y1="307.74" x2="380.45" y2="307.74" stroke="#222" stroke-width="1.0"/>
<rect x="374.60" y="312.95" width="7.90" height="21.54" fill="#d8222e" stroke="#1c1416" stroke-width="0.8"/>
<line x1="389.45" y1="288.98" x2="389.45" y2="285.50" stroke="#222" stroke-width="0.8"/>
<line x1="387.35" y1="285.50" x2="391.55" y2="285.50" stroke="#222" stroke-width="1.0"/>
<rect x="385.70" y="288.98" width="7.90" height="45.52" fill="#343fa2" stroke="#1c1416" stroke-width="0.8"/>
<line x1="383.90" y1="334.50" x2="383.90" y2="336.10" stroke="#333" stroke-width="0.7"/>
<text x="383.90" y="343.36" font-size="6.6" text-anchor="middle" fill="#111" stroke="#111" stroke-width="0.1" textLength="20.68" lengthAdjust="spacingAndGlyphs">NK+1.1</text>
<line x1="377.20" y1="279.50" x2="389.40" y2="279.50" stroke="#222" stroke-width="1.2"/>
<line x1="377.20" y1="277.20" x2="377.20" y2="281.80" stroke="#222" stroke-width="1.1"/>
<line x1="389.40" y1="277.20" x2="389.40" y2="281.80" stroke="#222" stroke-width="1.1"/>
<text x="383.30" y="275.35" font-size="4.9" text-anchor="middle" fill="#333" stroke="#333" stroke-width="0.12" textLength="20.44" lengthAdjust="spacingAndGlyphs"><tspan font-style="italic">p</tspan> = 0.0002</text>
<line x1="407.15" y1="299.33" x2="407.15" y2="294.19" stroke="#222" stroke-width="0.8"/>
<line x1="405.05" y1="294.19" x2="409.25" y2="294.19" stroke="#222" stroke-width="1.0"/>
<rect x="403.40" y="299.33" width="7.90" height="35.17" fill="#d8222e" stroke="#1c1416" stroke-width="0.8"/>
<line x1="417.85" y1="285.43" x2="417.85" y2="282.38" stroke="#222" stroke-width="0.8"/>
<line x1="415.75" y1="282.38" x2="419.95" y2="282.38" stroke="#222" stroke-width="1.0"/>
<rect x="414.10" y="285.43" width="7.90" height="49.07" fill="#343fa2" stroke="#1c1416" stroke-width="0.8"/>
<line x1="412.50" y1="334.50" x2="412.50" y2="336.10" stroke="#333" stroke-width="0.7"/>
<text x="412.50" y="343.36" font-size="6.6" text-anchor="middle" fill="#111" stroke="#111" stroke-width="0.1" textLength="12.42" lengthAdjust="spacingAndGlyphs">Treg</text>
<line x1="405.50" y1="277.10" x2="418.10" y2="277.10" stroke="#222" stroke-width="1.2"/>
<line x1="405.50" y1="274.80" x2="405.50" y2="279.40" stroke="#222" stroke-width="1.1"/>
<line x1="418.10" y1="274.80" x2="418.10" y2="279.40" stroke="#222" stroke-width="1.1"/>
<text x="411.80" y="272.95" font-size="4.9" text-anchor="middle" fill="#333" stroke="#333" stroke-width="0.12" textLength="18.05" lengthAdjust="spacingAndGlyphs"><tspan font-style="italic">p</tspan> = 0.001</text>
<line x1="436.15" y1="291.06" x2="436.15" y2="285.43" stroke="#222" stroke-width="0.8"/>
<line x1="434.05" y1="285.43" x2="438.25" y2="285.43" stroke="#222" stroke-width="1.0"/>
<rect x="432.40" y="291.06" width="7.90" height="43.44" fill="#d8222e" stroke="#1c1416" stroke-width="0.8"/>
<line x1="446.95" y1="278.90" x2="446.95" y2="275.43" stroke="#222" stroke-width="0.8"/>
<line x1="444.85" y1="275.43" x2="449.05" y2="275.43" stroke="#222" stroke-width="1.0"/>
<rect x="443.20" y="278.90" width="7.90" height="55.60" fill="#343fa2" stroke="#1c1416" stroke-width="0.8"/>
<line x1="441.55" y1="334.50" x2="441.55" y2="336.10" stroke="#333" stroke-width="0.7"/>
<text x="441.55" y="343.36" font-size="6.6" text-anchor="middle" fill="#111" stroke="#111" stroke-width="0.1" textLength="18.34" lengthAdjust="spacingAndGlyphs">CD11c</text>
<line x1="435.00" y1="270.70" x2="447.30" y2="270.70" stroke="#222" stroke-width="1.2"/>
<line x1="435.00" y1="268.40" x2="435.00" y2="273.00" stroke="#222" stroke-width="1.1"/>
<line x1="447.30" y1="268.40" x2="447.30" y2="273.00" stroke="#222" stroke-width="1.1"/>
<text x="441.15" y="266.55" font-size="4.9" text-anchor="middle" fill="#333" stroke="#333" stroke-width="0.12" textLength="15.66" lengthAdjust="spacingAndGlyphs"><tspan font-style="italic">p</tspan> = 0.01</text>
<rect x="462.95" y="271.10" width="7.50" height="3.40" fill="#9a1e28" stroke="#1a1a1a" stroke-width="0.9"/>
<text x="474.70" y="275.06" font-size="6.3" text-anchor="start" fill="#cc4c5c" stroke="#cc4c5c" stroke-width="0.08" textLength="19.70" lengthAdjust="spacingAndGlyphs">Control</text>
<rect x="462.95" y="278.90" width="7.50" height="3.40" fill="#232a6a" stroke="#1a1a1a" stroke-width="0.9"/>
<text x="474.70" y="282.86" font-size="6.3" text-anchor="start" fill="#4a4a80" stroke="#4a4a80" stroke-width="0.08" textLength="10.60" lengthAdjust="spacingAndGlyphs">AAT</text>
</svg>
</body></html>
